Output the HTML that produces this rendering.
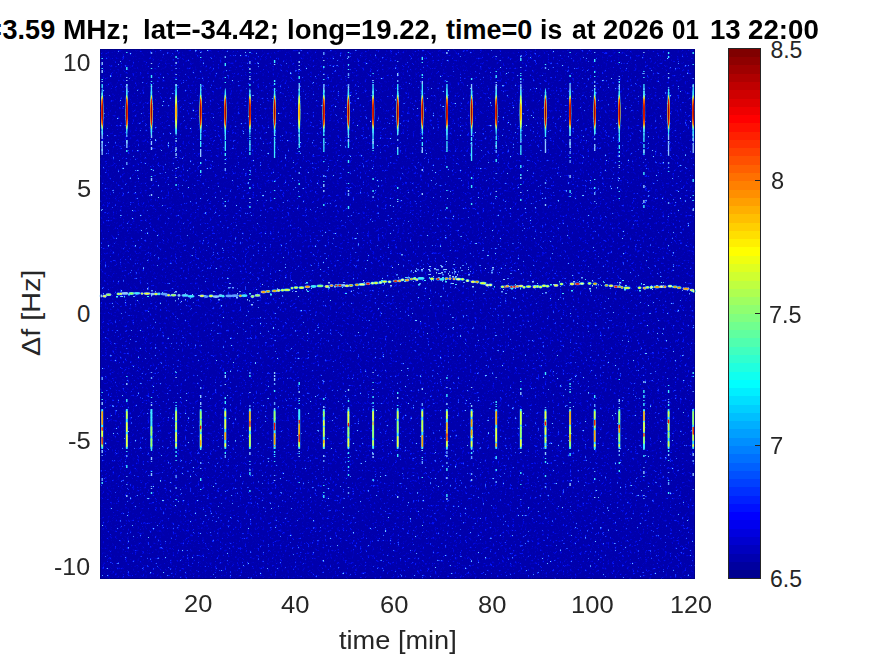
<!DOCTYPE html>
<html><head><meta charset="utf-8"><style>
html,body{margin:0;padding:0;background:#fff;width:875px;height:656px;overflow:hidden;}
body{position:relative;font-family:"Liberation Sans",sans-serif;}
.t{position:absolute;white-space:nowrap;line-height:1;}
svg{position:absolute;left:0;top:0;}
</style></head><body>
<svg width="875" height="656" viewBox="0 0 875 656" shape-rendering="crispEdges">
<filter id="nz" x="0" y="0" width="1" height="1" color-interpolation-filters="sRGB">
 <feTurbulence type="fractalNoise" baseFrequency="0.4" numOctaves="3" seed="4"/>
 <feComponentTransfer><feFuncR type="gamma" amplitude="1" exponent="10" offset="0"/></feComponentTransfer>
 <feColorMatrix type="matrix" values="2.1 0 0 0 0.012  2.1 0 0 0 0.012  2.1 0 0 0 0.012  0 0 0 0 1"/>
 <feComponentTransfer>
  <feFuncR type="table" tableValues="0 0 .02 .1 .2 .3 .38 .42 .45 .45 .45 .45 .45 .45 .45 .45 .45"/>
  <feFuncG type="table" tableValues="0 .02 .1 .25 .42 .58 .7 .78 .82 .82 .82 .82 .82 .82 .82 .82 .82"/>
  <feFuncB type="table" tableValues=".64 .84 1 1 1 1 1 1 1 1 1 1 1 1 1 1 1"/>
 </feComponentTransfer>
 <feGaussianBlur stdDeviation="0.5"/>
</filter>
<filter id="sb" x="-5%" y="-5%" width="110%" height="110%" color-interpolation-filters="sRGB"><feGaussianBlur stdDeviation="0.45"/></filter>
<rect x="100" y="49" width="595" height="530" fill="#0508b0"/>
<rect x="100" y="49" width="595" height="530" fill="#0508b0" filter="url(#nz)"/>
<g filter="url(#sb)" shape-rendering="auto"><path fill="#40e8ff" d="M101.5 58.0h1.4v1.0h-1.4zM101.5 68.0h1.4v1.0h-1.4zM101.5 79.0h1.4v1.0h-1.4zM101.5 85.0h1.4v2.0h-1.4zM101.5 102.0h1.4v1.0h-1.4zM101.5 109.0h1.4v1.0h-1.4zM101.5 116.0h1.4v2.0h-1.4zM101.5 141.0h1.4v2.0h-1.4zM101.5 149.0h1.4v2.0h-1.4zM126.1 52.0h1.4v1.0h-1.4zM126.1 67.0h1.4v3.0h-1.4zM126.1 84.0h1.4v2.0h-1.4zM126.1 108.0h1.4v2.0h-1.4zM126.1 111.0h1.4v2.0h-1.4zM126.1 120.0h1.4v1.0h-1.4zM126.1 122.0h1.4v1.0h-1.4zM126.1 140.0h1.4v3.0h-1.4zM126.1 150.0h1.4v2.0h-1.4zM150.8 68.0h1.4v1.0h-1.4zM150.8 75.0h1.4v3.0h-1.4zM150.8 81.0h1.4v1.0h-1.4zM150.8 91.0h1.4v2.0h-1.4zM150.8 97.0h1.4v2.0h-1.4zM150.8 103.0h1.4v1.0h-1.4zM150.8 106.0h1.4v3.0h-1.4zM150.8 114.0h1.4v1.0h-1.4zM150.8 169.0h1.4v1.0h-1.4zM150.8 176.0h1.4v1.0h-1.4zM175.4 56.0h1.4v2.0h-1.4zM175.4 79.0h1.4v1.0h-1.4zM175.4 99.0h1.4v1.0h-1.4zM175.4 103.0h1.4v3.0h-1.4zM175.4 120.0h1.4v1.0h-1.4zM175.4 123.0h1.4v2.0h-1.4zM175.4 128.0h1.4v2.0h-1.4zM175.4 138.0h1.4v1.0h-1.4zM175.4 149.0h1.4v1.0h-1.4zM175.4 184.0h1.4v2.0h-1.4zM200.0 57.0h1.4v1.0h-1.4zM200.0 98.0h1.4v3.0h-1.4zM200.0 104.0h1.4v1.0h-1.4zM200.0 134.0h1.4v3.0h-1.4zM200.0 143.0h1.4v1.0h-1.4zM200.0 162.0h1.4v2.0h-1.4zM200.0 170.0h1.4v3.0h-1.4zM224.6 63.0h1.4v3.0h-1.4zM224.6 77.0h1.4v1.0h-1.4zM224.6 82.0h1.4v1.0h-1.4zM224.6 113.0h1.4v2.0h-1.4zM224.6 119.0h1.4v1.0h-1.4zM224.6 130.0h1.4v2.0h-1.4zM224.6 147.0h1.4v2.0h-1.4zM224.6 153.0h1.4v3.0h-1.4zM224.6 159.0h1.4v1.0h-1.4zM224.6 201.0h1.4v1.0h-1.4zM249.2 52.0h1.4v1.0h-1.4zM249.2 72.0h1.4v1.0h-1.4zM249.2 84.0h1.4v2.0h-1.4zM249.2 104.0h1.4v2.0h-1.4zM249.2 109.0h1.4v1.0h-1.4zM249.2 114.0h1.4v3.0h-1.4zM249.2 131.0h1.4v1.0h-1.4zM249.2 136.0h1.4v1.0h-1.4zM249.2 138.0h1.4v1.0h-1.4zM249.2 142.0h1.4v1.0h-1.4zM249.2 149.0h1.4v2.0h-1.4zM249.2 152.0h1.4v3.0h-1.4zM249.2 170.0h1.4v1.0h-1.4zM249.2 174.0h1.4v1.0h-1.4zM249.2 179.0h1.4v1.0h-1.4zM249.2 187.0h1.4v2.0h-1.4zM249.2 206.0h1.4v2.0h-1.4zM273.9 60.0h1.4v3.0h-1.4zM273.9 80.0h1.4v2.0h-1.4zM273.9 83.0h1.4v2.0h-1.4zM273.9 88.0h1.4v2.0h-1.4zM273.9 107.0h1.4v1.0h-1.4zM273.9 110.0h1.4v2.0h-1.4zM273.9 114.0h1.4v2.0h-1.4zM273.9 117.0h1.4v2.0h-1.4zM273.9 120.0h1.4v2.0h-1.4zM273.9 123.0h1.4v2.0h-1.4zM273.9 143.0h1.4v2.0h-1.4zM273.9 146.0h1.4v1.0h-1.4zM273.9 181.0h1.4v1.0h-1.4zM273.9 190.0h1.4v1.0h-1.4zM273.9 198.0h1.4v1.0h-1.4zM298.5 76.0h1.4v3.0h-1.4zM298.5 83.0h1.4v1.0h-1.4zM298.5 89.0h1.4v2.0h-1.4zM298.5 113.0h1.4v3.0h-1.4zM298.5 138.0h1.4v2.0h-1.4zM298.5 151.0h1.4v1.0h-1.4zM298.5 183.0h1.4v2.0h-1.4zM298.5 196.0h1.4v1.0h-1.4zM323.1 66.0h1.4v2.0h-1.4zM323.1 79.0h1.4v1.0h-1.4zM323.1 90.0h1.4v3.0h-1.4zM323.1 96.0h1.4v1.0h-1.4zM323.1 116.0h1.4v3.0h-1.4zM323.1 127.0h1.4v1.0h-1.4zM323.1 130.0h1.4v2.0h-1.4zM323.1 134.0h1.4v2.0h-1.4zM323.1 140.0h1.4v3.0h-1.4zM323.1 151.0h1.4v1.0h-1.4zM323.1 161.0h1.4v1.0h-1.4zM323.1 181.0h1.4v1.0h-1.4zM323.1 204.0h1.4v2.0h-1.4zM347.8 52.0h1.4v1.0h-1.4zM347.8 64.0h1.4v1.0h-1.4zM347.8 69.0h1.4v1.0h-1.4zM347.8 87.0h1.4v1.0h-1.4zM347.8 103.0h1.4v2.0h-1.4zM347.8 115.0h1.4v2.0h-1.4zM347.8 127.0h1.4v3.0h-1.4zM347.8 134.0h1.4v1.0h-1.4zM347.8 137.0h1.4v1.0h-1.4zM347.8 144.0h1.4v2.0h-1.4zM347.8 160.0h1.4v3.0h-1.4zM347.8 172.0h1.4v1.0h-1.4zM347.8 183.0h1.4v1.0h-1.4zM347.8 206.0h1.4v3.0h-1.4zM372.4 73.0h1.4v1.0h-1.4zM372.4 82.0h1.4v1.0h-1.4zM372.4 95.0h1.4v1.0h-1.4zM372.4 99.0h1.4v2.0h-1.4zM372.4 103.0h1.4v2.0h-1.4zM372.4 127.0h1.4v1.0h-1.4zM372.4 150.0h1.4v1.0h-1.4zM372.4 178.0h1.4v2.0h-1.4zM372.4 190.0h1.4v2.0h-1.4zM397.0 88.0h1.4v1.0h-1.4zM397.0 114.0h1.4v1.0h-1.4zM397.0 125.0h1.4v1.0h-1.4zM397.0 130.0h1.4v1.0h-1.4zM397.0 187.0h1.4v2.0h-1.4zM397.0 199.0h1.4v1.0h-1.4zM421.6 57.0h1.4v3.0h-1.4zM421.6 62.0h1.4v1.0h-1.4zM421.6 74.0h1.4v2.0h-1.4zM421.6 77.0h1.4v1.0h-1.4zM421.6 106.0h1.4v2.0h-1.4zM421.6 123.0h1.4v2.0h-1.4zM421.6 137.0h1.4v2.0h-1.4zM421.6 150.0h1.4v3.0h-1.4zM446.2 81.0h1.4v1.0h-1.4zM446.2 88.0h1.4v2.0h-1.4zM446.2 93.0h1.4v2.0h-1.4zM446.2 97.0h1.4v2.0h-1.4zM446.2 151.0h1.4v1.0h-1.4zM446.2 166.0h1.4v2.0h-1.4zM446.2 190.0h1.4v1.0h-1.4zM446.2 207.0h1.4v2.0h-1.4zM470.9 78.0h1.4v2.0h-1.4zM470.9 91.0h1.4v2.0h-1.4zM470.9 97.0h1.4v2.0h-1.4zM470.9 113.0h1.4v1.0h-1.4zM470.9 117.0h1.4v3.0h-1.4zM470.9 123.0h1.4v1.0h-1.4zM470.9 177.0h1.4v2.0h-1.4zM470.9 185.0h1.4v3.0h-1.4zM470.9 203.0h1.4v2.0h-1.4zM495.5 71.0h1.4v1.0h-1.4zM495.5 75.0h1.4v3.0h-1.4zM495.5 86.0h1.4v3.0h-1.4zM495.5 100.0h1.4v1.0h-1.4zM495.5 159.0h1.4v3.0h-1.4zM495.5 196.0h1.4v1.0h-1.4zM520.1 58.0h1.4v3.0h-1.4zM520.1 73.0h1.4v1.0h-1.4zM520.1 75.0h1.4v1.0h-1.4zM520.1 78.0h1.4v2.0h-1.4zM520.1 87.0h1.4v1.0h-1.4zM520.1 103.0h1.4v1.0h-1.4zM520.1 108.0h1.4v1.0h-1.4zM520.1 112.0h1.4v2.0h-1.4zM520.1 123.0h1.4v1.0h-1.4zM520.1 130.0h1.4v1.0h-1.4zM520.1 151.0h1.4v1.0h-1.4zM520.1 165.0h1.4v3.0h-1.4zM520.1 174.0h1.4v2.0h-1.4zM520.1 184.0h1.4v1.0h-1.4zM520.1 199.0h1.4v2.0h-1.4zM544.8 64.0h1.4v1.0h-1.4zM544.8 96.0h1.4v2.0h-1.4zM544.8 112.0h1.4v3.0h-1.4zM544.8 118.0h1.4v2.0h-1.4zM544.8 124.0h1.4v2.0h-1.4zM544.8 132.0h1.4v1.0h-1.4zM544.8 136.0h1.4v1.0h-1.4zM569.4 52.0h1.4v1.0h-1.4zM569.4 75.0h1.4v2.0h-1.4zM569.4 83.0h1.4v1.0h-1.4zM569.4 111.0h1.4v3.0h-1.4zM569.4 120.0h1.4v3.0h-1.4zM569.4 125.0h1.4v3.0h-1.4zM569.4 134.0h1.4v2.0h-1.4zM569.4 142.0h1.4v3.0h-1.4zM569.4 157.0h1.4v1.0h-1.4zM569.4 190.0h1.4v3.0h-1.4zM569.4 196.0h1.4v1.0h-1.4zM594.0 59.0h1.4v3.0h-1.4zM594.0 71.0h1.4v2.0h-1.4zM594.0 76.0h1.4v1.0h-1.4zM594.0 95.0h1.4v1.0h-1.4zM594.0 99.0h1.4v3.0h-1.4zM594.0 108.0h1.4v3.0h-1.4zM594.0 123.0h1.4v2.0h-1.4zM594.0 179.0h1.4v1.0h-1.4zM594.0 187.0h1.4v2.0h-1.4zM618.6 52.0h1.4v1.0h-1.4zM618.6 62.0h1.4v1.0h-1.4zM618.6 81.0h1.4v2.0h-1.4zM618.6 86.0h1.4v1.0h-1.4zM618.6 88.0h1.4v1.0h-1.4zM618.6 113.0h1.4v1.0h-1.4zM618.6 120.0h1.4v1.0h-1.4zM618.6 127.0h1.4v1.0h-1.4zM618.6 134.0h1.4v2.0h-1.4zM618.6 145.0h1.4v2.0h-1.4zM618.6 151.0h1.4v2.0h-1.4zM618.6 161.0h1.4v1.0h-1.4zM618.6 191.0h1.4v1.0h-1.4zM618.6 198.0h1.4v1.0h-1.4zM643.2 71.0h1.4v1.0h-1.4zM643.2 77.0h1.4v1.0h-1.4zM643.2 91.0h1.4v1.0h-1.4zM643.2 95.0h1.4v2.0h-1.4zM643.2 104.0h1.4v2.0h-1.4zM643.2 108.0h1.4v2.0h-1.4zM643.2 138.0h1.4v3.0h-1.4zM643.2 172.0h1.4v3.0h-1.4zM643.2 205.0h1.4v3.0h-1.4zM667.9 52.0h1.4v2.0h-1.4zM667.9 56.0h1.4v2.0h-1.4zM667.9 89.0h1.4v2.0h-1.4zM667.9 92.0h1.4v2.0h-1.4zM667.9 106.0h1.4v1.0h-1.4zM667.9 121.0h1.4v2.0h-1.4zM667.9 141.0h1.4v1.0h-1.4zM667.9 171.0h1.4v1.0h-1.4zM692.5 52.0h1.4v2.0h-1.4zM692.5 64.0h1.4v1.0h-1.4zM692.5 91.0h1.4v3.0h-1.4zM692.5 97.0h1.4v3.0h-1.4zM692.5 108.0h1.4v2.0h-1.4zM692.5 112.0h1.4v1.0h-1.4zM692.5 127.0h1.4v3.0h-1.4zM692.5 179.0h1.4v3.0h-1.4zM692.5 195.0h1.4v1.0h-1.4zM692.5 200.0h1.4v1.0h-1.4zM101.5 84.0h1.3v4.0h-1.3zM101.5 97.0h1.3v6.0h-1.3zM101.5 120.0h1.3v8.0h-1.3zM126.2 101.0h1.3v10.0h-1.3zM126.2 113.0h1.3v4.0h-1.3zM126.2 118.0h1.3v6.0h-1.3zM150.8 84.0h1.3v10.0h-1.3zM150.8 95.0h1.3v10.0h-1.3zM150.8 113.0h1.3v14.0h-1.3zM175.4 84.0h1.3v14.0h-1.3zM175.4 100.0h1.3v10.0h-1.3zM175.4 112.0h1.3v8.0h-1.3zM175.4 123.0h1.3v10.0h-1.3zM200.0 84.0h1.3v6.0h-1.3zM200.0 136.0h1.3v4.0h-1.3zM200.0 141.0h1.3v6.0h-1.3zM224.7 117.0h1.3v14.0h-1.3zM224.7 132.0h1.3v8.0h-1.3zM224.7 141.0h1.3v10.0h-1.3zM249.3 112.0h1.3v8.0h-1.3zM249.3 123.0h1.3v4.0h-1.3zM249.3 140.0h1.3v10.0h-1.3zM273.9 94.0h1.3v8.0h-1.3zM273.9 105.0h1.3v8.0h-1.3zM273.9 114.0h1.3v4.0h-1.3zM273.9 137.0h1.3v6.0h-1.3zM273.9 144.0h1.3v14.0h-1.3zM298.6 121.0h1.3v6.0h-1.3zM298.6 128.0h1.3v4.0h-1.3zM298.6 134.0h1.3v14.0h-1.3zM323.2 95.0h1.3v8.0h-1.3zM323.2 104.0h1.3v6.0h-1.3zM323.2 138.0h1.3v14.0h-1.3zM347.8 100.0h1.3v4.0h-1.3zM347.8 140.0h1.3v8.0h-1.3zM372.4 84.0h1.3v10.0h-1.3zM372.4 95.0h1.3v6.0h-1.3zM372.4 102.0h1.3v14.0h-1.3zM372.4 119.0h1.3v14.0h-1.3zM372.4 135.0h1.3v14.0h-1.3zM397.1 84.0h1.3v6.0h-1.3zM397.1 93.0h1.3v6.0h-1.3zM397.1 110.0h1.3v10.0h-1.3zM397.1 149.0h1.3v6.0h-1.3zM421.7 84.0h1.3v10.0h-1.3zM421.7 142.0h1.3v4.0h-1.3zM446.3 84.0h1.3v10.0h-1.3zM446.3 95.0h1.3v8.0h-1.3zM446.3 121.0h1.3v4.0h-1.3zM446.3 126.0h1.3v14.0h-1.3zM446.3 141.0h1.3v10.0h-1.3zM470.9 137.0h1.3v4.0h-1.3zM470.9 142.0h1.3v4.0h-1.3zM470.9 147.0h1.3v14.0h-1.3zM495.6 136.0h1.3v4.0h-1.3zM495.6 141.0h1.3v8.0h-1.3zM520.2 134.0h1.3v8.0h-1.3zM520.2 145.0h1.3v10.0h-1.3zM544.8 101.0h1.3v14.0h-1.3zM544.8 127.0h1.3v10.0h-1.3zM569.4 110.0h1.3v10.0h-1.3zM594.1 102.0h1.3v8.0h-1.3zM594.1 120.0h1.3v14.0h-1.3zM618.7 91.0h1.3v8.0h-1.3zM618.7 100.0h1.3v10.0h-1.3zM618.7 134.0h1.3v8.0h-1.3zM618.7 145.0h1.3v4.0h-1.3zM643.3 84.0h1.3v6.0h-1.3zM643.3 119.0h1.3v4.0h-1.3zM643.3 134.0h1.3v8.0h-1.3zM643.3 144.0h1.3v4.0h-1.3zM643.3 149.0h1.3v6.0h-1.3zM667.9 95.0h1.3v10.0h-1.3zM692.6 84.0h1.3v8.0h-1.3zM692.6 94.0h1.3v4.0h-1.3zM692.6 100.0h1.3v10.0h-1.3zM692.6 119.0h1.3v10.0h-1.3zM692.6 131.0h1.3v10.0h-1.3zM101.5 392.0h1.4v1.0h-1.4zM101.5 399.0h1.4v1.0h-1.4zM101.5 425.0h1.4v2.0h-1.4zM101.5 441.0h1.4v2.0h-1.4zM101.5 444.0h1.4v2.0h-1.4zM101.5 482.0h1.4v2.0h-1.4zM126.1 376.0h1.4v1.0h-1.4zM126.1 399.0h1.4v3.0h-1.4zM126.1 414.0h1.4v2.0h-1.4zM126.1 418.0h1.4v1.0h-1.4zM126.1 436.0h1.4v1.0h-1.4zM126.1 451.0h1.4v1.0h-1.4zM126.1 465.0h1.4v3.0h-1.4zM150.8 397.0h1.4v1.0h-1.4zM150.8 409.0h1.4v1.0h-1.4zM150.8 413.0h1.4v1.0h-1.4zM150.8 417.0h1.4v1.0h-1.4zM150.8 427.0h1.4v3.0h-1.4zM150.8 432.0h1.4v1.0h-1.4zM150.8 448.0h1.4v3.0h-1.4zM150.8 471.0h1.4v1.0h-1.4zM150.8 492.0h1.4v2.0h-1.4zM175.4 372.0h1.4v1.0h-1.4zM175.4 402.0h1.4v1.0h-1.4zM175.4 405.0h1.4v1.0h-1.4zM175.4 407.0h1.4v2.0h-1.4zM175.4 429.0h1.4v3.0h-1.4zM175.4 446.0h1.4v2.0h-1.4zM175.4 451.0h1.4v2.0h-1.4zM175.4 455.0h1.4v2.0h-1.4zM175.4 460.0h1.4v1.0h-1.4zM175.4 499.0h1.4v1.0h-1.4zM200.0 433.0h1.4v2.0h-1.4zM200.0 446.0h1.4v2.0h-1.4zM200.0 449.0h1.4v1.0h-1.4zM200.0 478.0h1.4v3.0h-1.4zM200.0 489.0h1.4v1.0h-1.4zM224.6 372.0h1.4v2.0h-1.4zM224.6 397.0h1.4v2.0h-1.4zM224.6 401.0h1.4v3.0h-1.4zM224.6 413.0h1.4v2.0h-1.4zM224.6 418.0h1.4v1.0h-1.4zM224.6 428.0h1.4v1.0h-1.4zM224.6 441.0h1.4v2.0h-1.4zM224.6 452.0h1.4v2.0h-1.4zM249.2 375.0h1.4v2.0h-1.4zM249.2 421.0h1.4v1.0h-1.4zM249.2 425.0h1.4v1.0h-1.4zM249.2 427.0h1.4v2.0h-1.4zM249.2 431.0h1.4v2.0h-1.4zM249.2 437.0h1.4v3.0h-1.4zM249.2 441.0h1.4v3.0h-1.4zM249.2 461.0h1.4v1.0h-1.4zM249.2 472.0h1.4v3.0h-1.4zM249.2 490.0h1.4v2.0h-1.4zM273.9 390.0h1.4v2.0h-1.4zM273.9 422.0h1.4v2.0h-1.4zM273.9 430.0h1.4v3.0h-1.4zM273.9 435.0h1.4v2.0h-1.4zM273.9 447.0h1.4v2.0h-1.4zM273.9 451.0h1.4v2.0h-1.4zM273.9 454.0h1.4v1.0h-1.4zM273.9 456.0h1.4v1.0h-1.4zM273.9 461.0h1.4v1.0h-1.4zM298.5 382.0h1.4v3.0h-1.4zM298.5 400.0h1.4v1.0h-1.4zM298.5 403.0h1.4v1.0h-1.4zM298.5 416.0h1.4v1.0h-1.4zM298.5 421.0h1.4v1.0h-1.4zM298.5 431.0h1.4v3.0h-1.4zM298.5 442.0h1.4v1.0h-1.4zM298.5 444.0h1.4v3.0h-1.4zM298.5 453.0h1.4v1.0h-1.4zM298.5 482.0h1.4v1.0h-1.4zM323.1 398.0h1.4v2.0h-1.4zM323.1 423.0h1.4v1.0h-1.4zM323.1 430.0h1.4v1.0h-1.4zM323.1 438.0h1.4v3.0h-1.4zM323.1 443.0h1.4v1.0h-1.4zM323.1 485.0h1.4v1.0h-1.4zM323.1 492.0h1.4v1.0h-1.4zM323.1 495.0h1.4v3.0h-1.4zM347.8 400.0h1.4v2.0h-1.4zM347.8 412.0h1.4v1.0h-1.4zM347.8 414.0h1.4v2.0h-1.4zM347.8 422.0h1.4v3.0h-1.4zM347.8 441.0h1.4v2.0h-1.4zM347.8 445.0h1.4v1.0h-1.4zM347.8 452.0h1.4v2.0h-1.4zM347.8 457.0h1.4v1.0h-1.4zM347.8 461.0h1.4v1.0h-1.4zM347.8 466.0h1.4v2.0h-1.4zM347.8 474.0h1.4v2.0h-1.4zM372.4 382.0h1.4v1.0h-1.4zM372.4 396.0h1.4v2.0h-1.4zM372.4 402.0h1.4v2.0h-1.4zM372.4 410.0h1.4v1.0h-1.4zM372.4 415.0h1.4v2.0h-1.4zM372.4 423.0h1.4v1.0h-1.4zM372.4 440.0h1.4v1.0h-1.4zM372.4 479.0h1.4v2.0h-1.4zM397.0 392.0h1.4v2.0h-1.4zM397.0 405.0h1.4v1.0h-1.4zM397.0 408.0h1.4v1.0h-1.4zM397.0 427.0h1.4v2.0h-1.4zM397.0 436.0h1.4v2.0h-1.4zM397.0 441.0h1.4v3.0h-1.4zM397.0 454.0h1.4v3.0h-1.4zM421.6 410.0h1.4v2.0h-1.4zM421.6 413.0h1.4v1.0h-1.4zM421.6 430.0h1.4v1.0h-1.4zM421.6 437.0h1.4v1.0h-1.4zM421.6 457.0h1.4v1.0h-1.4zM421.6 477.0h1.4v1.0h-1.4zM446.2 377.0h1.4v2.0h-1.4zM446.2 394.0h1.4v3.0h-1.4zM446.2 411.0h1.4v1.0h-1.4zM446.2 417.0h1.4v1.0h-1.4zM446.2 420.0h1.4v3.0h-1.4zM446.2 468.0h1.4v3.0h-1.4zM446.2 494.0h1.4v3.0h-1.4zM470.9 414.0h1.4v1.0h-1.4zM470.9 430.0h1.4v2.0h-1.4zM470.9 434.0h1.4v1.0h-1.4zM470.9 452.0h1.4v2.0h-1.4zM495.5 401.0h1.4v2.0h-1.4zM495.5 404.0h1.4v1.0h-1.4zM495.5 406.0h1.4v1.0h-1.4zM495.5 411.0h1.4v1.0h-1.4zM495.5 416.0h1.4v2.0h-1.4zM495.5 427.0h1.4v2.0h-1.4zM495.5 444.0h1.4v1.0h-1.4zM495.5 456.0h1.4v3.0h-1.4zM495.5 469.0h1.4v2.0h-1.4zM520.1 381.0h1.4v1.0h-1.4zM520.1 388.0h1.4v2.0h-1.4zM520.1 409.0h1.4v1.0h-1.4zM520.1 427.0h1.4v2.0h-1.4zM520.1 472.0h1.4v2.0h-1.4zM520.1 484.0h1.4v1.0h-1.4zM544.8 372.0h1.4v3.0h-1.4zM544.8 417.0h1.4v2.0h-1.4zM544.8 429.0h1.4v3.0h-1.4zM544.8 435.0h1.4v3.0h-1.4zM544.8 442.0h1.4v3.0h-1.4zM544.8 447.0h1.4v2.0h-1.4zM544.8 458.0h1.4v1.0h-1.4zM544.8 461.0h1.4v2.0h-1.4zM544.8 475.0h1.4v2.0h-1.4zM569.4 383.0h1.4v2.0h-1.4zM569.4 386.0h1.4v1.0h-1.4zM569.4 391.0h1.4v2.0h-1.4zM569.4 402.0h1.4v1.0h-1.4zM569.4 416.0h1.4v1.0h-1.4zM569.4 441.0h1.4v1.0h-1.4zM569.4 448.0h1.4v1.0h-1.4zM569.4 453.0h1.4v3.0h-1.4zM594.0 395.0h1.4v3.0h-1.4zM594.0 428.0h1.4v1.0h-1.4zM594.0 443.0h1.4v3.0h-1.4zM594.0 447.0h1.4v3.0h-1.4zM594.0 478.0h1.4v2.0h-1.4zM618.6 379.0h1.4v1.0h-1.4zM618.6 412.0h1.4v1.0h-1.4zM618.6 425.0h1.4v2.0h-1.4zM618.6 429.0h1.4v1.0h-1.4zM618.6 443.0h1.4v1.0h-1.4zM618.6 462.0h1.4v2.0h-1.4zM618.6 470.0h1.4v2.0h-1.4zM643.2 390.0h1.4v3.0h-1.4zM643.2 395.0h1.4v3.0h-1.4zM643.2 400.0h1.4v1.0h-1.4zM643.2 403.0h1.4v3.0h-1.4zM643.2 411.0h1.4v2.0h-1.4zM643.2 427.0h1.4v1.0h-1.4zM643.2 440.0h1.4v2.0h-1.4zM643.2 446.0h1.4v1.0h-1.4zM643.2 448.0h1.4v2.0h-1.4zM643.2 455.0h1.4v2.0h-1.4zM643.2 476.0h1.4v1.0h-1.4zM667.9 385.0h1.4v1.0h-1.4zM667.9 390.0h1.4v3.0h-1.4zM667.9 404.0h1.4v2.0h-1.4zM667.9 416.0h1.4v2.0h-1.4zM667.9 450.0h1.4v2.0h-1.4zM667.9 460.0h1.4v1.0h-1.4zM667.9 480.0h1.4v1.0h-1.4zM667.9 492.0h1.4v2.0h-1.4zM692.5 372.0h1.4v2.0h-1.4zM692.5 376.0h1.4v1.0h-1.4zM692.5 409.0h1.4v1.0h-1.4zM692.5 420.0h1.4v2.0h-1.4zM692.5 426.0h1.4v1.0h-1.4zM550.0 284.0h2.0v1.5h-2.0zM624.0 289.0h2.0v1.5h-2.0zM404.0 281.0h2.0v1.0h-2.0zM249.0 293.0h2.0v1.5h-2.0zM641.0 283.0h1.0v1.5h-1.0zM515.0 288.0h1.0v1.0h-1.0zM494.0 286.0h1.0v1.5h-1.0zM307.0 291.0h2.0v1.0h-2.0zM424.0 280.0h2.0v1.0h-2.0zM162.0 292.0h1.0v1.5h-1.0zM328.0 287.0h2.0v1.5h-2.0zM147.0 296.0h2.0v1.0h-2.0zM661.0 282.0h1.0v1.0h-1.0zM345.0 286.0h2.0v1.0h-2.0zM691.0 290.0h1.0v1.5h-1.0zM204.0 295.0h2.0v1.0h-2.0zM650.0 288.0h2.0v1.0h-2.0zM128.0 294.0h2.0v1.5h-2.0zM534.0 285.0h2.0v1.0h-2.0zM442.0 277.0h2.0v1.5h-2.0zM350.0 286.0h2.0v1.0h-2.0zM352.0 285.0h1.0v1.0h-1.0zM579.0 281.0h1.0v1.0h-1.0zM418.0 284.0h2.0v1.5h-2.0zM559.0 281.0h1.0v1.5h-1.0zM589.0 283.0h1.0v1.5h-1.0zM585.0 279.0h1.0v1.0h-1.0zM300.0 287.0h2.0v1.0h-2.0zM455.0 284.0h2.0v1.0h-2.0zM603.0 281.0h1.0v1.5h-1.0zM562.0 293.0h2.0v1.0h-2.0zM405.0 277.0h2.0v1.0h-2.0zM116.0 296.0h2.0v1.5h-2.0zM672.0 286.0h1.0v1.5h-1.0zM414.0 277.0h2.0v1.0h-2.0zM306.0 282.0h2.0v1.5h-2.0zM520.0 288.0h1.0v1.5h-1.0zM511.0 288.0h2.0v1.5h-2.0zM429.0 277.0h1.0v1.5h-1.0zM124.0 296.0h1.0v1.5h-1.0zM622.0 280.0h2.0v1.0h-2.0zM455.0 277.0h1.0v1.5h-1.0zM639.0 290.0h2.0v1.5h-2.0zM345.0 293.0h2.0v1.0h-2.0zM270.0 294.0h2.0v1.5h-2.0zM445.0 281.0h2.0v1.5h-2.0zM571.0 290.0h2.0v1.5h-2.0zM381.0 280.0h2.0v1.5h-2.0zM342.0 287.0h1.0v1.0h-1.0zM515.0 284.0h1.0v1.0h-1.0zM144.0 293.0h1.0v1.0h-1.0z"/><path fill="#90c8ff" d="M101.5 62.0h1.4v3.0h-1.4zM101.5 70.0h1.4v3.0h-1.4zM101.5 81.0h1.4v1.0h-1.4zM101.5 93.0h1.4v2.0h-1.4zM101.5 96.0h1.4v3.0h-1.4zM101.5 124.0h1.4v2.0h-1.4zM126.1 77.0h1.4v1.0h-1.4zM126.1 80.0h1.4v1.0h-1.4zM126.1 126.0h1.4v3.0h-1.4zM150.8 63.0h1.4v1.0h-1.4zM150.8 86.0h1.4v1.0h-1.4zM150.8 112.0h1.4v1.0h-1.4zM150.8 121.0h1.4v1.0h-1.4zM150.8 135.0h1.4v3.0h-1.4zM150.8 147.0h1.4v3.0h-1.4zM150.8 178.0h1.4v3.0h-1.4zM150.8 194.0h1.4v2.0h-1.4zM175.4 62.0h1.4v2.0h-1.4zM175.4 74.0h1.4v1.0h-1.4zM175.4 84.0h1.4v2.0h-1.4zM175.4 118.0h1.4v1.0h-1.4zM175.4 133.0h1.4v1.0h-1.4zM175.4 140.0h1.4v2.0h-1.4zM175.4 153.0h1.4v3.0h-1.4zM175.4 157.0h1.4v1.0h-1.4zM175.4 168.0h1.4v1.0h-1.4zM175.4 177.0h1.4v1.0h-1.4zM200.0 95.0h1.4v1.0h-1.4zM200.0 109.0h1.4v1.0h-1.4zM200.0 123.0h1.4v1.0h-1.4zM200.0 125.0h1.4v3.0h-1.4zM224.6 98.0h1.4v1.0h-1.4zM224.6 124.0h1.4v2.0h-1.4zM249.2 68.0h1.4v2.0h-1.4zM249.2 76.0h1.4v1.0h-1.4zM249.2 78.0h1.4v2.0h-1.4zM249.2 94.0h1.4v3.0h-1.4zM249.2 128.0h1.4v1.0h-1.4zM249.2 144.0h1.4v1.0h-1.4zM249.2 198.0h1.4v1.0h-1.4zM249.2 202.0h1.4v1.0h-1.4zM273.9 64.0h1.4v1.0h-1.4zM273.9 96.0h1.4v1.0h-1.4zM298.5 61.0h1.4v2.0h-1.4zM298.5 65.0h1.4v1.0h-1.4zM298.5 69.0h1.4v1.0h-1.4zM298.5 122.0h1.4v1.0h-1.4zM298.5 126.0h1.4v3.0h-1.4zM298.5 134.0h1.4v3.0h-1.4zM298.5 144.0h1.4v1.0h-1.4zM323.1 60.0h1.4v1.0h-1.4zM323.1 74.0h1.4v1.0h-1.4zM323.1 88.0h1.4v1.0h-1.4zM323.1 184.0h1.4v3.0h-1.4zM323.1 190.0h1.4v2.0h-1.4zM347.8 93.0h1.4v1.0h-1.4zM347.8 98.0h1.4v3.0h-1.4zM347.8 107.0h1.4v1.0h-1.4zM347.8 110.0h1.4v2.0h-1.4zM347.8 139.0h1.4v3.0h-1.4zM347.8 190.0h1.4v2.0h-1.4zM372.4 80.0h1.4v1.0h-1.4zM372.4 91.0h1.4v2.0h-1.4zM372.4 139.0h1.4v1.0h-1.4zM372.4 141.0h1.4v3.0h-1.4zM397.0 73.0h1.4v3.0h-1.4zM397.0 100.0h1.4v1.0h-1.4zM397.0 104.0h1.4v3.0h-1.4zM397.0 117.0h1.4v2.0h-1.4zM397.0 122.0h1.4v2.0h-1.4zM397.0 147.0h1.4v2.0h-1.4zM397.0 201.0h1.4v1.0h-1.4zM421.6 81.0h1.4v3.0h-1.4zM421.6 100.0h1.4v2.0h-1.4zM421.6 103.0h1.4v1.0h-1.4zM421.6 112.0h1.4v2.0h-1.4zM421.6 118.0h1.4v2.0h-1.4zM421.6 169.0h1.4v2.0h-1.4zM421.6 193.0h1.4v2.0h-1.4zM446.2 52.0h1.4v2.0h-1.4zM446.2 104.0h1.4v3.0h-1.4zM446.2 108.0h1.4v1.0h-1.4zM446.2 116.0h1.4v2.0h-1.4zM470.9 94.0h1.4v2.0h-1.4zM470.9 103.0h1.4v2.0h-1.4zM495.5 82.0h1.4v1.0h-1.4zM495.5 116.0h1.4v2.0h-1.4zM495.5 120.0h1.4v1.0h-1.4zM495.5 145.0h1.4v2.0h-1.4zM495.5 191.0h1.4v1.0h-1.4zM520.1 56.0h1.4v1.0h-1.4zM520.1 90.0h1.4v2.0h-1.4zM520.1 93.0h1.4v2.0h-1.4zM520.1 115.0h1.4v2.0h-1.4zM520.1 118.0h1.4v1.0h-1.4zM520.1 177.0h1.4v2.0h-1.4zM520.1 192.0h1.4v1.0h-1.4zM544.8 92.0h1.4v1.0h-1.4zM544.8 106.0h1.4v2.0h-1.4zM544.8 142.0h1.4v1.0h-1.4zM544.8 149.0h1.4v3.0h-1.4zM544.8 204.0h1.4v2.0h-1.4zM569.4 92.0h1.4v1.0h-1.4zM569.4 96.0h1.4v2.0h-1.4zM569.4 107.0h1.4v3.0h-1.4zM569.4 139.0h1.4v1.0h-1.4zM569.4 146.0h1.4v2.0h-1.4zM569.4 175.0h1.4v3.0h-1.4zM594.0 85.0h1.4v2.0h-1.4zM594.0 88.0h1.4v2.0h-1.4zM594.0 121.0h1.4v1.0h-1.4zM594.0 131.0h1.4v3.0h-1.4zM594.0 150.0h1.4v1.0h-1.4zM618.6 79.0h1.4v1.0h-1.4zM618.6 95.0h1.4v1.0h-1.4zM618.6 98.0h1.4v1.0h-1.4zM618.6 125.0h1.4v1.0h-1.4zM618.6 155.0h1.4v2.0h-1.4zM618.6 165.0h1.4v1.0h-1.4zM618.6 167.0h1.4v1.0h-1.4zM618.6 178.0h1.4v1.0h-1.4zM643.2 52.0h1.4v1.0h-1.4zM643.2 73.0h1.4v1.0h-1.4zM643.2 112.0h1.4v2.0h-1.4zM643.2 115.0h1.4v2.0h-1.4zM643.2 121.0h1.4v1.0h-1.4zM643.2 126.0h1.4v1.0h-1.4zM643.2 150.0h1.4v3.0h-1.4zM643.2 185.0h1.4v3.0h-1.4zM643.2 200.0h1.4v3.0h-1.4zM667.9 73.0h1.4v1.0h-1.4zM667.9 77.0h1.4v1.0h-1.4zM692.5 85.0h1.4v2.0h-1.4zM692.5 103.0h1.4v2.0h-1.4zM692.5 134.0h1.4v2.0h-1.4zM692.5 138.0h1.4v3.0h-1.4zM692.5 149.0h1.4v1.0h-1.4zM692.5 209.0h1.4v2.0h-1.4zM101.5 111.0h1.3v6.0h-1.3zM101.5 131.0h1.3v8.0h-1.3zM101.5 141.0h1.3v14.0h-1.3zM126.2 84.0h1.3v8.0h-1.3zM126.2 140.0h1.3v8.0h-1.3zM150.8 106.0h1.3v4.0h-1.3zM150.8 128.0h1.3v10.0h-1.3zM150.8 141.0h1.3v4.0h-1.3zM175.4 147.0h1.3v4.0h-1.3zM200.0 107.0h1.3v14.0h-1.3zM200.0 127.0h1.3v6.0h-1.3zM200.0 149.0h1.3v8.0h-1.3zM224.7 95.0h1.3v10.0h-1.3zM249.3 95.0h1.3v4.0h-1.3zM249.3 101.0h1.3v8.0h-1.3zM273.9 132.0h1.3v4.0h-1.3zM298.6 84.0h1.3v6.0h-1.3zM298.6 100.0h1.3v8.0h-1.3zM298.6 109.0h1.3v10.0h-1.3zM323.2 84.0h1.3v8.0h-1.3zM323.2 112.0h1.3v8.0h-1.3zM347.8 84.0h1.3v14.0h-1.3zM347.8 123.0h1.3v14.0h-1.3zM397.1 121.0h1.3v4.0h-1.3zM397.1 127.0h1.3v8.0h-1.3zM421.7 95.0h1.3v8.0h-1.3zM421.7 147.0h1.3v6.0h-1.3zM470.9 84.0h1.3v8.0h-1.3zM470.9 106.0h1.3v14.0h-1.3zM470.9 123.0h1.3v4.0h-1.3zM470.9 130.0h1.3v6.0h-1.3zM495.6 84.0h1.3v14.0h-1.3zM520.2 84.0h1.3v14.0h-1.3zM520.2 100.0h1.3v8.0h-1.3zM520.2 109.0h1.3v10.0h-1.3zM544.8 95.0h1.3v4.0h-1.3zM544.8 116.0h1.3v4.0h-1.3zM544.8 121.0h1.3v4.0h-1.3zM544.8 139.0h1.3v14.0h-1.3zM569.4 84.0h1.3v10.0h-1.3zM569.4 97.0h1.3v10.0h-1.3zM569.4 122.0h1.3v14.0h-1.3zM569.4 139.0h1.3v8.0h-1.3zM594.1 144.0h1.3v6.0h-1.3zM618.7 84.0h1.3v6.0h-1.3zM618.7 112.0h1.3v4.0h-1.3zM618.7 119.0h1.3v14.0h-1.3zM643.3 91.0h1.3v6.0h-1.3zM643.3 100.0h1.3v6.0h-1.3zM643.3 108.0h1.3v10.0h-1.3zM643.3 126.0h1.3v6.0h-1.3zM667.9 134.0h1.3v6.0h-1.3zM667.9 141.0h1.3v14.0h-1.3zM692.6 113.0h1.3v4.0h-1.3zM692.6 143.0h1.3v10.0h-1.3zM101.5 402.0h1.4v3.0h-1.4zM101.5 416.0h1.4v2.0h-1.4zM101.5 450.0h1.4v3.0h-1.4zM126.1 383.0h1.4v2.0h-1.4zM126.1 432.0h1.4v2.0h-1.4zM126.1 444.0h1.4v3.0h-1.4zM126.1 495.0h1.4v2.0h-1.4zM150.8 404.0h1.4v2.0h-1.4zM150.8 439.0h1.4v2.0h-1.4zM150.8 444.0h1.4v2.0h-1.4zM150.8 457.0h1.4v3.0h-1.4zM150.8 473.0h1.4v3.0h-1.4zM150.8 488.0h1.4v1.0h-1.4zM175.4 377.0h1.4v1.0h-1.4zM175.4 415.0h1.4v2.0h-1.4zM175.4 433.0h1.4v2.0h-1.4zM175.4 437.0h1.4v1.0h-1.4zM200.0 395.0h1.4v3.0h-1.4zM200.0 402.0h1.4v3.0h-1.4zM224.6 375.0h1.4v3.0h-1.4zM224.6 384.0h1.4v1.0h-1.4zM249.2 392.0h1.4v1.0h-1.4zM249.2 452.0h1.4v3.0h-1.4zM273.9 372.0h1.4v2.0h-1.4zM273.9 375.0h1.4v2.0h-1.4zM273.9 378.0h1.4v3.0h-1.4zM273.9 408.0h1.4v1.0h-1.4zM273.9 418.0h1.4v1.0h-1.4zM273.9 427.0h1.4v2.0h-1.4zM273.9 480.0h1.4v1.0h-1.4zM298.5 391.0h1.4v2.0h-1.4zM298.5 398.0h1.4v1.0h-1.4zM298.5 424.0h1.4v1.0h-1.4zM298.5 451.0h1.4v1.0h-1.4zM298.5 456.0h1.4v1.0h-1.4zM323.1 406.0h1.4v2.0h-1.4zM323.1 419.0h1.4v1.0h-1.4zM323.1 433.0h1.4v1.0h-1.4zM323.1 447.0h1.4v2.0h-1.4zM323.1 455.0h1.4v2.0h-1.4zM347.8 389.0h1.4v2.0h-1.4zM347.8 428.0h1.4v1.0h-1.4zM347.8 432.0h1.4v2.0h-1.4zM347.8 447.0h1.4v1.0h-1.4zM372.4 372.0h1.4v1.0h-1.4zM372.4 389.0h1.4v1.0h-1.4zM372.4 430.0h1.4v1.0h-1.4zM372.4 436.0h1.4v2.0h-1.4zM372.4 453.0h1.4v2.0h-1.4zM372.4 456.0h1.4v2.0h-1.4zM397.0 397.0h1.4v2.0h-1.4zM397.0 432.0h1.4v2.0h-1.4zM397.0 496.0h1.4v2.0h-1.4zM421.6 388.0h1.4v2.0h-1.4zM421.6 417.0h1.4v3.0h-1.4zM421.6 448.0h1.4v1.0h-1.4zM421.6 450.0h1.4v1.0h-1.4zM446.2 387.0h1.4v1.0h-1.4zM446.2 403.0h1.4v2.0h-1.4zM446.2 437.0h1.4v1.0h-1.4zM446.2 455.0h1.4v2.0h-1.4zM446.2 477.0h1.4v2.0h-1.4zM446.2 498.0h1.4v2.0h-1.4zM470.9 387.0h1.4v1.0h-1.4zM470.9 405.0h1.4v2.0h-1.4zM470.9 422.0h1.4v2.0h-1.4zM470.9 436.0h1.4v3.0h-1.4zM470.9 440.0h1.4v2.0h-1.4zM470.9 479.0h1.4v2.0h-1.4zM520.1 392.0h1.4v3.0h-1.4zM520.1 419.0h1.4v2.0h-1.4zM520.1 432.0h1.4v1.0h-1.4zM520.1 439.0h1.4v2.0h-1.4zM520.1 443.0h1.4v3.0h-1.4zM520.1 452.0h1.4v1.0h-1.4zM544.8 452.0h1.4v3.0h-1.4zM569.4 389.0h1.4v1.0h-1.4zM569.4 407.0h1.4v1.0h-1.4zM569.4 418.0h1.4v1.0h-1.4zM569.4 420.0h1.4v2.0h-1.4zM569.4 424.0h1.4v3.0h-1.4zM569.4 444.0h1.4v1.0h-1.4zM569.4 483.0h1.4v3.0h-1.4zM594.0 497.0h1.4v1.0h-1.4zM618.6 399.0h1.4v3.0h-1.4zM618.6 407.0h1.4v1.0h-1.4zM618.6 433.0h1.4v1.0h-1.4zM618.6 438.0h1.4v2.0h-1.4zM618.6 450.0h1.4v2.0h-1.4zM643.2 381.0h1.4v2.0h-1.4zM643.2 419.0h1.4v2.0h-1.4zM643.2 422.0h1.4v3.0h-1.4zM643.2 471.0h1.4v3.0h-1.4zM643.2 495.0h1.4v1.0h-1.4zM667.9 412.0h1.4v2.0h-1.4zM667.9 432.0h1.4v1.0h-1.4zM667.9 437.0h1.4v1.0h-1.4zM667.9 444.0h1.4v2.0h-1.4zM667.9 454.0h1.4v2.0h-1.4zM692.5 453.0h1.4v3.0h-1.4zM692.5 473.0h1.4v3.0h-1.4zM236.0 297.0h2.0v1.5h-2.0zM532.0 281.0h2.0v1.5h-2.0zM509.0 286.0h1.0v1.0h-1.0zM503.0 279.0h2.0v1.0h-2.0zM147.0 288.0h1.0v1.5h-1.0zM673.0 287.0h2.0v1.0h-2.0zM553.0 284.0h2.0v1.0h-2.0zM592.0 280.0h1.0v1.5h-1.0zM175.0 291.0h2.0v1.5h-2.0zM181.0 301.0h1.0v1.0h-1.0zM417.0 280.0h1.0v1.0h-1.0zM295.0 291.0h2.0v1.0h-2.0zM545.0 285.0h2.0v1.5h-2.0zM126.0 292.0h1.0v1.5h-1.0zM676.0 286.0h1.0v1.5h-1.0zM122.0 296.0h1.0v1.0h-1.0zM656.0 285.0h2.0v1.0h-2.0zM589.0 288.0h2.0v1.5h-2.0zM452.0 283.0h2.0v1.0h-2.0zM449.0 275.0h2.0v1.5h-2.0zM178.0 298.0h1.0v1.5h-1.0zM334.0 286.0h2.0v1.5h-2.0zM521.0 285.0h2.0v1.0h-2.0zM542.0 285.0h1.0v1.0h-1.0zM198.0 295.0h2.0v1.0h-2.0zM390.0 285.0h2.0v1.5h-2.0zM262.0 284.0h1.0v1.0h-1.0zM247.0 299.0h1.0v1.5h-1.0zM592.0 285.0h1.0v1.5h-1.0zM192.0 294.0h1.0v1.5h-1.0zM328.0 282.0h2.0v1.5h-2.0zM429.0 274.0h2.0v1.0h-2.0zM619.0 282.0h2.0v1.5h-2.0zM151.0 295.0h1.0v1.5h-1.0zM419.0 277.0h1.0v1.0h-1.0zM503.0 289.0h1.0v1.0h-1.0zM384.0 283.0h1.0v1.5h-1.0zM643.0 284.0h2.0v1.0h-2.0zM457.0 274.0h1.0v1.5h-1.0zM351.0 291.0h1.0v1.0h-1.0zM375.0 282.0h2.0v1.5h-2.0zM477.0 282.0h1.0v1.5h-1.0zM237.0 293.0h1.0v1.5h-1.0zM251.0 304.0h2.0v1.5h-2.0zM442.0 279.0h2.0v1.5h-2.0zM306.0 289.0h1.0v1.5h-1.0zM445.0 279.0h1.0v1.5h-1.0zM452.0 276.0h2.0v1.5h-2.0zM431.0 280.0h1.0v1.0h-1.0zM573.0 281.0h2.0v1.5h-2.0zM363.0 280.0h1.0v1.0h-1.0zM455.0 276.0h2.0v1.5h-2.0zM136.0 293.0h1.0v1.5h-1.0zM652.0 289.0h1.0v1.0h-1.0zM472.0 286.0h2.0v1.5h-2.0zM429.0 270.0h2.0v1.5h-2.0zM392.0 267.0h1.0v1.0h-1.0zM468.0 269.0h1.0v1.0h-1.0zM429.0 266.0h2.0v1.0h-2.0zM492.0 267.0h2.0v1.5h-2.0zM434.0 268.0h2.0v1.5h-2.0zM428.0 269.0h2.0v1.0h-2.0zM436.0 272.0h1.0v1.5h-1.0zM446.0 261.0h1.0v1.0h-1.0zM448.0 273.0h1.0v1.5h-1.0zM446.0 269.0h1.0v1.0h-1.0zM441.0 272.0h2.0v1.5h-2.0zM518.0 269.0h1.0v1.0h-1.0zM485.0 268.0h1.0v1.0h-1.0zM454.0 271.0h2.0v1.5h-2.0zM421.0 269.0h2.0v1.0h-2.0zM444.0 269.0h2.0v1.0h-2.0zM460.0 267.0h1.0v1.5h-1.0zM439.0 273.0h2.0v1.0h-2.0zM423.0 268.0h1.0v1.0h-1.0zM415.0 271.0h2.0v1.0h-2.0zM441.0 266.0h2.0v1.5h-2.0zM415.0 270.0h1.0v1.5h-1.0zM398.0 264.0h1.0v1.0h-1.0z"/><path fill="#60a0ff" d="M101.5 128.0h1.4v1.0h-1.4zM101.5 144.0h1.4v3.0h-1.4zM101.5 209.0h1.4v1.0h-1.4zM126.1 92.0h1.4v2.0h-1.4zM126.1 135.0h1.4v2.0h-1.4zM126.1 162.0h1.4v3.0h-1.4zM150.8 52.0h1.4v2.0h-1.4zM150.8 124.0h1.4v1.0h-1.4zM150.8 131.0h1.4v1.0h-1.4zM175.4 68.0h1.4v1.0h-1.4zM175.4 94.0h1.4v2.0h-1.4zM175.4 110.0h1.4v2.0h-1.4zM200.0 52.0h1.4v1.0h-1.4zM200.0 85.0h1.4v2.0h-1.4zM200.0 89.0h1.4v2.0h-1.4zM200.0 116.0h1.4v3.0h-1.4zM224.6 56.0h1.4v2.0h-1.4zM224.6 109.0h1.4v3.0h-1.4zM224.6 135.0h1.4v1.0h-1.4zM224.6 163.0h1.4v1.0h-1.4zM224.6 168.0h1.4v3.0h-1.4zM224.6 205.0h1.4v2.0h-1.4zM249.2 61.0h1.4v3.0h-1.4zM249.2 90.0h1.4v2.0h-1.4zM273.9 91.0h1.4v1.0h-1.4zM273.9 101.0h1.4v2.0h-1.4zM273.9 131.0h1.4v2.0h-1.4zM273.9 139.0h1.4v1.0h-1.4zM298.5 52.0h1.4v2.0h-1.4zM298.5 117.0h1.4v3.0h-1.4zM298.5 130.0h1.4v2.0h-1.4zM298.5 172.0h1.4v2.0h-1.4zM323.1 52.0h1.4v3.0h-1.4zM323.1 84.0h1.4v3.0h-1.4zM323.1 103.0h1.4v2.0h-1.4zM323.1 111.0h1.4v1.0h-1.4zM323.1 144.0h1.4v1.0h-1.4zM323.1 175.0h1.4v2.0h-1.4zM347.8 56.0h1.4v2.0h-1.4zM347.8 73.0h1.4v3.0h-1.4zM347.8 77.0h1.4v1.0h-1.4zM347.8 84.0h1.4v2.0h-1.4zM347.8 89.0h1.4v1.0h-1.4zM347.8 193.0h1.4v3.0h-1.4zM372.4 84.0h1.4v1.0h-1.4zM372.4 108.0h1.4v1.0h-1.4zM372.4 118.0h1.4v3.0h-1.4zM372.4 132.0h1.4v3.0h-1.4zM372.4 148.0h1.4v1.0h-1.4zM372.4 196.0h1.4v2.0h-1.4zM397.0 61.0h1.4v1.0h-1.4zM397.0 80.0h1.4v2.0h-1.4zM397.0 91.0h1.4v3.0h-1.4zM397.0 139.0h1.4v2.0h-1.4zM421.6 127.0h1.4v2.0h-1.4zM421.6 132.0h1.4v1.0h-1.4zM421.6 147.0h1.4v1.0h-1.4zM446.2 100.0h1.4v3.0h-1.4zM446.2 121.0h1.4v2.0h-1.4zM446.2 129.0h1.4v1.0h-1.4zM446.2 133.0h1.4v2.0h-1.4zM446.2 147.0h1.4v1.0h-1.4zM470.9 132.0h1.4v1.0h-1.4zM470.9 144.0h1.4v3.0h-1.4zM495.5 56.0h1.4v1.0h-1.4zM495.5 107.0h1.4v1.0h-1.4zM495.5 109.0h1.4v1.0h-1.4zM495.5 124.0h1.4v2.0h-1.4zM495.5 150.0h1.4v3.0h-1.4zM495.5 173.0h1.4v1.0h-1.4zM520.1 67.0h1.4v1.0h-1.4zM520.1 81.0h1.4v2.0h-1.4zM520.1 126.0h1.4v1.0h-1.4zM520.1 139.0h1.4v1.0h-1.4zM520.1 141.0h1.4v2.0h-1.4zM544.8 67.0h1.4v2.0h-1.4zM544.8 140.0h1.4v1.0h-1.4zM544.8 182.0h1.4v2.0h-1.4zM569.4 94.0h1.4v1.0h-1.4zM569.4 102.0h1.4v1.0h-1.4zM569.4 151.0h1.4v3.0h-1.4zM569.4 160.0h1.4v3.0h-1.4zM594.0 52.0h1.4v1.0h-1.4zM594.0 81.0h1.4v2.0h-1.4zM594.0 115.0h1.4v2.0h-1.4zM594.0 138.0h1.4v2.0h-1.4zM594.0 146.0h1.4v1.0h-1.4zM594.0 192.0h1.4v3.0h-1.4zM594.0 201.0h1.4v1.0h-1.4zM618.6 76.0h1.4v1.0h-1.4zM618.6 107.0h1.4v2.0h-1.4zM643.2 88.0h1.4v2.0h-1.4zM643.2 99.0h1.4v2.0h-1.4zM643.2 133.0h1.4v1.0h-1.4zM667.9 87.0h1.4v1.0h-1.4zM667.9 101.0h1.4v2.0h-1.4zM667.9 114.0h1.4v1.0h-1.4zM667.9 127.0h1.4v2.0h-1.4zM667.9 143.0h1.4v2.0h-1.4zM667.9 155.0h1.4v1.0h-1.4zM667.9 162.0h1.4v2.0h-1.4zM667.9 167.0h1.4v1.0h-1.4zM667.9 202.0h1.4v2.0h-1.4zM692.5 78.0h1.4v1.0h-1.4zM692.5 114.0h1.4v1.0h-1.4zM692.5 144.0h1.4v1.0h-1.4zM101.5 377.0h1.4v3.0h-1.4zM101.5 429.0h1.4v3.0h-1.4zM101.5 433.0h1.4v2.0h-1.4zM101.5 455.0h1.4v1.0h-1.4zM101.5 478.0h1.4v3.0h-1.4zM126.1 409.0h1.4v1.0h-1.4zM126.1 426.0h1.4v3.0h-1.4zM126.1 440.0h1.4v2.0h-1.4zM126.1 455.0h1.4v2.0h-1.4zM126.1 476.0h1.4v1.0h-1.4zM126.1 484.0h1.4v1.0h-1.4zM150.8 372.0h1.4v1.0h-1.4zM150.8 377.0h1.4v2.0h-1.4zM150.8 402.0h1.4v1.0h-1.4zM150.8 420.0h1.4v1.0h-1.4zM150.8 461.0h1.4v1.0h-1.4zM150.8 486.0h1.4v1.0h-1.4zM175.4 413.0h1.4v1.0h-1.4zM175.4 421.0h1.4v2.0h-1.4zM175.4 475.0h1.4v3.0h-1.4zM175.4 487.0h1.4v2.0h-1.4zM200.0 387.0h1.4v2.0h-1.4zM200.0 406.0h1.4v1.0h-1.4zM200.0 417.0h1.4v2.0h-1.4zM200.0 423.0h1.4v1.0h-1.4zM200.0 462.0h1.4v2.0h-1.4zM200.0 468.0h1.4v1.0h-1.4zM224.6 408.0h1.4v1.0h-1.4zM224.6 425.0h1.4v2.0h-1.4zM224.6 435.0h1.4v2.0h-1.4zM224.6 455.0h1.4v3.0h-1.4zM249.2 372.0h1.4v2.0h-1.4zM249.2 405.0h1.4v2.0h-1.4zM249.2 408.0h1.4v3.0h-1.4zM249.2 448.0h1.4v1.0h-1.4zM249.2 464.0h1.4v1.0h-1.4zM249.2 469.0h1.4v2.0h-1.4zM273.9 383.0h1.4v2.0h-1.4zM273.9 402.0h1.4v3.0h-1.4zM273.9 475.0h1.4v1.0h-1.4zM323.1 381.0h1.4v1.0h-1.4zM323.1 409.0h1.4v2.0h-1.4zM323.1 425.0h1.4v2.0h-1.4zM323.1 460.0h1.4v2.0h-1.4zM347.8 407.0h1.4v3.0h-1.4zM347.8 436.0h1.4v2.0h-1.4zM347.8 487.0h1.4v1.0h-1.4zM347.8 492.0h1.4v2.0h-1.4zM372.4 406.0h1.4v1.0h-1.4zM372.4 408.0h1.4v1.0h-1.4zM372.4 434.0h1.4v1.0h-1.4zM397.0 415.0h1.4v2.0h-1.4zM397.0 446.0h1.4v2.0h-1.4zM421.6 403.0h1.4v3.0h-1.4zM421.6 426.0h1.4v1.0h-1.4zM421.6 444.0h1.4v3.0h-1.4zM421.6 459.0h1.4v1.0h-1.4zM421.6 461.0h1.4v3.0h-1.4zM446.2 414.0h1.4v2.0h-1.4zM446.2 442.0h1.4v2.0h-1.4zM446.2 448.0h1.4v2.0h-1.4zM446.2 451.0h1.4v3.0h-1.4zM446.2 462.0h1.4v2.0h-1.4zM470.9 411.0h1.4v2.0h-1.4zM470.9 448.0h1.4v2.0h-1.4zM470.9 456.0h1.4v3.0h-1.4zM470.9 473.0h1.4v2.0h-1.4zM495.5 377.0h1.4v1.0h-1.4zM495.5 421.0h1.4v3.0h-1.4zM495.5 446.0h1.4v1.0h-1.4zM495.5 481.0h1.4v2.0h-1.4zM520.1 411.0h1.4v2.0h-1.4zM520.1 499.0h1.4v1.0h-1.4zM544.8 407.0h1.4v1.0h-1.4zM544.8 412.0h1.4v1.0h-1.4zM544.8 486.0h1.4v2.0h-1.4zM569.4 379.0h1.4v1.0h-1.4zM569.4 435.0h1.4v2.0h-1.4zM594.0 404.0h1.4v3.0h-1.4zM594.0 410.0h1.4v3.0h-1.4zM594.0 471.0h1.4v1.0h-1.4zM618.6 403.0h1.4v1.0h-1.4zM618.6 454.0h1.4v2.0h-1.4zM643.2 467.0h1.4v1.0h-1.4zM643.2 498.0h1.4v1.0h-1.4zM667.9 399.0h1.4v1.0h-1.4zM667.9 401.0h1.4v2.0h-1.4zM667.9 434.0h1.4v2.0h-1.4zM667.9 472.0h1.4v1.0h-1.4zM667.9 482.0h1.4v3.0h-1.4zM692.5 391.0h1.4v1.0h-1.4zM692.5 460.0h1.4v2.0h-1.4zM692.5 489.0h1.4v1.0h-1.4zM170.0 295.0h1.0v1.5h-1.0zM663.0 285.0h1.0v1.0h-1.0zM318.0 285.0h1.0v1.0h-1.0zM407.0 277.0h1.0v1.5h-1.0zM644.0 288.0h2.0v1.5h-2.0zM682.0 290.0h1.0v1.0h-1.0zM413.0 281.0h1.0v1.0h-1.0zM175.0 300.0h1.0v1.5h-1.0zM213.0 291.0h2.0v1.0h-2.0zM344.0 285.0h2.0v1.0h-2.0zM117.0 294.0h2.0v1.0h-2.0zM598.0 284.0h1.0v1.5h-1.0zM619.0 284.0h1.0v1.0h-1.0zM513.0 287.0h1.0v1.5h-1.0zM484.0 284.0h2.0v1.0h-2.0zM408.0 277.0h2.0v1.5h-2.0zM292.0 291.0h1.0v1.0h-1.0zM596.0 287.0h1.0v1.5h-1.0zM239.0 291.0h2.0v1.0h-2.0zM398.0 277.0h1.0v1.5h-1.0zM229.0 283.0h2.0v1.0h-2.0zM463.0 282.0h2.0v1.0h-2.0zM617.0 282.0h1.0v1.0h-1.0zM343.0 282.0h2.0v1.0h-2.0zM174.0 292.0h1.0v1.0h-1.0zM505.0 293.0h2.0v1.0h-2.0zM256.0 289.0h1.0v1.0h-1.0zM249.0 300.0h1.0v1.5h-1.0zM165.0 295.0h2.0v1.5h-2.0zM218.0 299.0h2.0v1.5h-2.0zM151.0 290.0h2.0v1.5h-2.0zM442.0 281.0h1.0v1.0h-1.0zM663.0 282.0h1.0v1.0h-1.0zM364.0 282.0h1.0v1.0h-1.0zM419.0 283.0h2.0v1.5h-2.0zM133.0 296.0h2.0v1.0h-2.0zM581.0 277.0h2.0v1.5h-2.0zM234.0 295.0h1.0v1.0h-1.0zM415.0 279.0h2.0v1.5h-2.0zM103.0 293.0h1.0v1.5h-1.0zM431.0 280.0h1.0v1.5h-1.0zM604.0 282.0h1.0v1.0h-1.0zM438.0 277.0h2.0v1.0h-2.0zM232.0 295.0h1.0v1.5h-1.0zM440.0 279.0h1.0v1.5h-1.0zM545.0 292.0h2.0v1.5h-2.0zM185.0 293.0h1.0v1.0h-1.0zM422.0 277.0h1.0v1.0h-1.0zM228.0 287.0h2.0v1.5h-2.0zM185.0 299.0h1.0v1.5h-1.0zM155.0 291.0h1.0v1.0h-1.0zM232.0 287.0h2.0v1.5h-2.0zM689.0 293.0h1.0v1.5h-1.0zM501.0 291.0h2.0v1.5h-2.0zM460.0 267.0h1.0v1.0h-1.0zM413.0 272.0h1.0v1.0h-1.0zM401.0 254.0h2.0v1.5h-2.0zM440.0 265.0h2.0v1.0h-2.0zM428.0 274.0h1.0v1.0h-1.0zM449.0 271.0h1.0v1.5h-1.0zM438.0 269.0h1.0v1.5h-1.0zM454.0 269.0h1.0v1.5h-1.0zM436.0 269.0h2.0v1.5h-2.0zM453.0 264.0h2.0v1.0h-2.0zM468.0 267.0h1.0v1.0h-1.0zM452.0 272.0h1.0v1.5h-1.0zM454.0 271.0h1.0v1.0h-1.0zM470.0 271.0h1.0v1.0h-1.0zM416.0 271.0h1.0v1.0h-1.0zM411.0 270.0h1.0v1.5h-1.0zM416.0 268.0h1.0v1.5h-1.0zM491.0 272.0h2.0v1.5h-2.0zM443.0 269.0h1.0v1.5h-1.0zM468.0 274.0h2.0v1.5h-2.0z"/><path fill="#4080ff" d="M461.0 270.0h2.0v1.0h-2.0zM462.0 265.0h2.0v1.0h-2.0zM505.0 265.0h1.0v1.0h-1.0zM479.0 265.0h2.0v1.0h-2.0zM491.0 270.0h2.0v1.5h-2.0zM510.0 273.0h2.0v1.0h-2.0zM458.0 271.0h1.0v1.5h-1.0zM396.0 274.0h2.0v1.5h-2.0zM507.0 278.0h2.0v1.0h-2.0zM466.0 263.0h1.0v1.5h-1.0zM430.0 270.0h1.0v1.5h-1.0zM444.0 271.0h2.0v1.5h-2.0zM492.0 269.0h2.0v1.0h-2.0zM454.0 273.0h1.0v1.5h-1.0zM499.0 272.0h1.0v1.0h-1.0zM442.0 274.0h2.0v1.5h-2.0zM421.0 270.0h2.0v1.5h-2.0zM417.0 269.0h2.0v1.5h-2.0z"/><ellipse cx="102.2" cy="112.0" rx="1.15" ry="24" fill="#40e8ff"/><ellipse cx="102.2" cy="112.0" rx="1.05" ry="17" fill="#f0ff30"/><ellipse cx="102.2" cy="112.0" rx="0.95" ry="15" fill="#ffa000"/><ellipse cx="102.2" cy="112.0" rx="0.85" ry="13.5" fill="#f01000"/><ellipse cx="102.2" cy="112.0" rx="0.5" ry="9" fill="#a00000"/><ellipse cx="126.8" cy="112.0" rx="1.15" ry="24" fill="#40e8ff"/><ellipse cx="126.8" cy="112.0" rx="1.05" ry="17" fill="#f0ff30"/><ellipse cx="126.8" cy="112.0" rx="0.95" ry="15" fill="#ffa000"/><ellipse cx="126.8" cy="112.0" rx="0.85" ry="13.5" fill="#f01000"/><ellipse cx="126.8" cy="112.0" rx="0.5" ry="9" fill="#a00000"/><ellipse cx="151.4" cy="112.0" rx="1.15" ry="24" fill="#40e8ff"/><ellipse cx="151.4" cy="112.0" rx="1.05" ry="17" fill="#f0ff30"/><ellipse cx="151.4" cy="112.0" rx="0.95" ry="15" fill="#ffa000"/><ellipse cx="151.4" cy="112.0" rx="0.85" ry="13.5" fill="#f01000"/><ellipse cx="151.4" cy="112.0" rx="0.5" ry="9" fill="#a00000"/><ellipse cx="176.1" cy="112.0" rx="1.15" ry="24" fill="#40e8ff"/><ellipse cx="176.1" cy="112.0" rx="1.05" ry="17" fill="#f0ff30"/><ellipse cx="176.1" cy="112.0" rx="0.8" ry="9" fill="#ffa000"/><ellipse cx="200.7" cy="112.0" rx="1.15" ry="24" fill="#40e8ff"/><ellipse cx="200.7" cy="112.0" rx="1.05" ry="17" fill="#f0ff30"/><ellipse cx="200.7" cy="112.0" rx="0.95" ry="15" fill="#ffa000"/><ellipse cx="200.7" cy="112.0" rx="0.85" ry="13.5" fill="#f01000"/><ellipse cx="200.7" cy="112.0" rx="0.5" ry="9" fill="#a00000"/><ellipse cx="225.3" cy="112.0" rx="1.15" ry="24" fill="#40e8ff"/><ellipse cx="225.3" cy="112.0" rx="1.05" ry="17" fill="#f0ff30"/><ellipse cx="225.3" cy="112.0" rx="0.95" ry="15" fill="#ffa000"/><ellipse cx="225.3" cy="112.0" rx="0.85" ry="13.5" fill="#f01000"/><ellipse cx="225.3" cy="112.0" rx="0.5" ry="9" fill="#a00000"/><ellipse cx="249.9" cy="112.0" rx="1.15" ry="24" fill="#40e8ff"/><ellipse cx="249.9" cy="112.0" rx="1.05" ry="17" fill="#f0ff30"/><ellipse cx="249.9" cy="112.0" rx="0.95" ry="15" fill="#ffa000"/><ellipse cx="249.9" cy="112.0" rx="0.85" ry="13.5" fill="#f01000"/><ellipse cx="249.9" cy="112.0" rx="0.5" ry="9" fill="#a00000"/><ellipse cx="274.6" cy="112.0" rx="1.15" ry="24" fill="#40e8ff"/><ellipse cx="274.6" cy="112.0" rx="1.05" ry="17" fill="#f0ff30"/><ellipse cx="274.6" cy="112.0" rx="0.95" ry="15" fill="#ffa000"/><ellipse cx="274.6" cy="112.0" rx="0.85" ry="13.5" fill="#f01000"/><ellipse cx="274.6" cy="112.0" rx="0.5" ry="9" fill="#a00000"/><ellipse cx="299.2" cy="112.0" rx="1.15" ry="24" fill="#40e8ff"/><ellipse cx="299.2" cy="112.0" rx="1.05" ry="17" fill="#f0ff30"/><ellipse cx="299.2" cy="112.0" rx="0.8" ry="9" fill="#ffa000"/><ellipse cx="323.8" cy="112.0" rx="1.15" ry="24" fill="#40e8ff"/><ellipse cx="323.8" cy="112.0" rx="1.05" ry="17" fill="#f0ff30"/><ellipse cx="323.8" cy="112.0" rx="0.95" ry="15" fill="#ffa000"/><ellipse cx="323.8" cy="112.0" rx="0.85" ry="13.5" fill="#f01000"/><ellipse cx="323.8" cy="112.0" rx="0.5" ry="9" fill="#a00000"/><ellipse cx="348.4" cy="112.0" rx="1.15" ry="24" fill="#40e8ff"/><ellipse cx="348.4" cy="112.0" rx="1.05" ry="17" fill="#f0ff30"/><ellipse cx="348.4" cy="112.0" rx="0.95" ry="15" fill="#ffa000"/><ellipse cx="348.4" cy="112.0" rx="0.85" ry="13.5" fill="#f01000"/><ellipse cx="348.4" cy="112.0" rx="0.5" ry="9" fill="#a00000"/><ellipse cx="373.1" cy="112.0" rx="1.15" ry="24" fill="#40e8ff"/><ellipse cx="373.1" cy="112.0" rx="1.05" ry="17" fill="#f0ff30"/><ellipse cx="373.1" cy="112.0" rx="0.95" ry="15" fill="#ffa000"/><ellipse cx="373.1" cy="112.0" rx="0.85" ry="13.5" fill="#f01000"/><ellipse cx="373.1" cy="112.0" rx="0.5" ry="9" fill="#a00000"/><ellipse cx="397.7" cy="112.0" rx="1.15" ry="24" fill="#40e8ff"/><ellipse cx="397.7" cy="112.0" rx="1.05" ry="17" fill="#f0ff30"/><ellipse cx="397.7" cy="112.0" rx="0.95" ry="15" fill="#ffa000"/><ellipse cx="397.7" cy="112.0" rx="0.85" ry="13.5" fill="#f01000"/><ellipse cx="397.7" cy="112.0" rx="0.5" ry="9" fill="#a00000"/><ellipse cx="422.3" cy="112.0" rx="1.15" ry="24" fill="#40e8ff"/><ellipse cx="422.3" cy="112.0" rx="1.05" ry="17" fill="#f0ff30"/><ellipse cx="422.3" cy="112.0" rx="0.95" ry="15" fill="#ffa000"/><ellipse cx="422.3" cy="112.0" rx="0.85" ry="13.5" fill="#f01000"/><ellipse cx="422.3" cy="112.0" rx="0.5" ry="9" fill="#a00000"/><ellipse cx="446.9" cy="112.0" rx="1.15" ry="24" fill="#40e8ff"/><ellipse cx="446.9" cy="112.0" rx="1.05" ry="17" fill="#f0ff30"/><ellipse cx="446.9" cy="112.0" rx="0.95" ry="15" fill="#ffa000"/><ellipse cx="446.9" cy="112.0" rx="0.85" ry="13.5" fill="#f01000"/><ellipse cx="446.9" cy="112.0" rx="0.5" ry="9" fill="#a00000"/><ellipse cx="471.6" cy="112.0" rx="1.15" ry="24" fill="#40e8ff"/><ellipse cx="471.6" cy="112.0" rx="1.05" ry="17" fill="#f0ff30"/><ellipse cx="471.6" cy="112.0" rx="0.95" ry="15" fill="#ffa000"/><ellipse cx="471.6" cy="112.0" rx="0.85" ry="13.5" fill="#f01000"/><ellipse cx="471.6" cy="112.0" rx="0.5" ry="9" fill="#a00000"/><ellipse cx="496.2" cy="112.0" rx="1.15" ry="24" fill="#40e8ff"/><ellipse cx="496.2" cy="112.0" rx="1.05" ry="17" fill="#f0ff30"/><ellipse cx="496.2" cy="112.0" rx="0.95" ry="15" fill="#ffa000"/><ellipse cx="496.2" cy="112.0" rx="0.85" ry="13.5" fill="#f01000"/><ellipse cx="496.2" cy="112.0" rx="0.5" ry="9" fill="#a00000"/><ellipse cx="520.8" cy="112.0" rx="1.15" ry="24" fill="#40e8ff"/><ellipse cx="520.8" cy="112.0" rx="1.05" ry="17" fill="#f0ff30"/><ellipse cx="520.8" cy="112.0" rx="0.8" ry="9" fill="#ffa000"/><ellipse cx="545.5" cy="112.0" rx="1.15" ry="24" fill="#40e8ff"/><ellipse cx="545.5" cy="112.0" rx="1.05" ry="17" fill="#f0ff30"/><ellipse cx="545.5" cy="112.0" rx="0.95" ry="15" fill="#ffa000"/><ellipse cx="545.5" cy="112.0" rx="0.85" ry="13.5" fill="#f01000"/><ellipse cx="545.5" cy="112.0" rx="0.5" ry="9" fill="#a00000"/><ellipse cx="570.1" cy="112.0" rx="1.15" ry="24" fill="#40e8ff"/><ellipse cx="570.1" cy="112.0" rx="1.05" ry="17" fill="#f0ff30"/><ellipse cx="570.1" cy="112.0" rx="0.95" ry="15" fill="#ffa000"/><ellipse cx="570.1" cy="112.0" rx="0.85" ry="13.5" fill="#f01000"/><ellipse cx="570.1" cy="112.0" rx="0.5" ry="9" fill="#a00000"/><ellipse cx="594.7" cy="112.0" rx="1.15" ry="24" fill="#40e8ff"/><ellipse cx="594.7" cy="112.0" rx="1.05" ry="17" fill="#f0ff30"/><ellipse cx="594.7" cy="112.0" rx="0.95" ry="15" fill="#ffa000"/><ellipse cx="594.7" cy="112.0" rx="0.85" ry="13.5" fill="#f01000"/><ellipse cx="594.7" cy="112.0" rx="0.5" ry="9" fill="#a00000"/><ellipse cx="619.3" cy="112.0" rx="1.15" ry="24" fill="#40e8ff"/><ellipse cx="619.3" cy="112.0" rx="1.05" ry="17" fill="#f0ff30"/><ellipse cx="619.3" cy="112.0" rx="0.95" ry="15" fill="#ffa000"/><ellipse cx="619.3" cy="112.0" rx="0.85" ry="13.5" fill="#f01000"/><ellipse cx="619.3" cy="112.0" rx="0.5" ry="9" fill="#a00000"/><ellipse cx="644.0" cy="112.0" rx="1.15" ry="24" fill="#40e8ff"/><ellipse cx="644.0" cy="112.0" rx="1.05" ry="17" fill="#f0ff30"/><ellipse cx="644.0" cy="112.0" rx="0.95" ry="15" fill="#ffa000"/><ellipse cx="644.0" cy="112.0" rx="0.85" ry="13.5" fill="#f01000"/><ellipse cx="644.0" cy="112.0" rx="0.5" ry="9" fill="#a00000"/><ellipse cx="668.6" cy="112.0" rx="1.15" ry="24" fill="#40e8ff"/><ellipse cx="668.6" cy="112.0" rx="1.05" ry="17" fill="#f0ff30"/><ellipse cx="668.6" cy="112.0" rx="0.95" ry="15" fill="#ffa000"/><ellipse cx="668.6" cy="112.0" rx="0.85" ry="13.5" fill="#f01000"/><ellipse cx="668.6" cy="112.0" rx="0.5" ry="9" fill="#a00000"/><ellipse cx="693.2" cy="112.0" rx="1.15" ry="24" fill="#40e8ff"/><ellipse cx="693.2" cy="112.0" rx="1.05" ry="17" fill="#f0ff30"/><ellipse cx="693.2" cy="112.0" rx="0.95" ry="15" fill="#ffa000"/><ellipse cx="693.2" cy="112.0" rx="0.85" ry="13.5" fill="#f01000"/><ellipse cx="693.2" cy="112.0" rx="0.5" ry="9" fill="#a00000"/><ellipse cx="101.0" cy="296.0" rx="1.5" ry="1.4" fill="#90c8ff"/><ellipse cx="104.5" cy="296.2" rx="2.0" ry="1.4" fill="#90c8ff"/><ellipse cx="104.5" cy="296.2" rx="1.3" ry="0.95" fill="#f0ff30"/><ellipse cx="108.5" cy="294.7" rx="3.0" ry="1.4" fill="#90c8ff"/><ellipse cx="108.5" cy="294.7" rx="2.3" ry="0.95" fill="#a0ff60"/><ellipse cx="118.5" cy="293.9" rx="2.0" ry="1.4" fill="#40e8ff"/><ellipse cx="118.5" cy="293.9" rx="1.3" ry="0.95" fill="#f0ff30"/><ellipse cx="121.0" cy="293.8" rx="1.5" ry="1.4" fill="#90c8ff"/><ellipse cx="121.0" cy="293.8" rx="1.0" ry="0.95" fill="#f0ff30"/><ellipse cx="125.0" cy="293.4" rx="3.5" ry="1.4" fill="#90c8ff"/><ellipse cx="131.5" cy="293.5" rx="3.0" ry="1.4" fill="#40e8ff"/><ellipse cx="131.5" cy="293.5" rx="2.3" ry="0.95" fill="#a0ff60"/><ellipse cx="137.0" cy="293.3" rx="3.5" ry="1.4" fill="#60a0ff"/><ellipse cx="137.0" cy="293.3" rx="2.8" ry="0.95" fill="#40e8ff"/><ellipse cx="142.0" cy="293.6" rx="1.5" ry="1.4" fill="#60a0ff"/><ellipse cx="142.0" cy="293.6" rx="1.0" ry="0.95" fill="#f0ff30"/><ellipse cx="147.0" cy="293.6" rx="3.5" ry="1.4" fill="#90c8ff"/><ellipse cx="147.0" cy="293.6" rx="2.8" ry="0.95" fill="#f0ff30"/><ellipse cx="152.5" cy="294.1" rx="2.0" ry="1.4" fill="#90c8ff"/><ellipse cx="156.0" cy="294.0" rx="2.5" ry="1.4" fill="#60a0ff"/><ellipse cx="156.0" cy="294.0" rx="1.8" ry="0.95" fill="#f0ff30"/><ellipse cx="159.0" cy="293.9" rx="1.5" ry="1.4" fill="#40e8ff"/><ellipse cx="164.0" cy="294.1" rx="3.5" ry="1.4" fill="#60a0ff"/><ellipse cx="168.5" cy="295.2" rx="2.0" ry="1.4" fill="#60a0ff"/><ellipse cx="168.5" cy="295.2" rx="1.3" ry="0.95" fill="#f0ff30"/><ellipse cx="173.5" cy="295.2" rx="3.0" ry="1.4" fill="#90c8ff"/><ellipse cx="173.5" cy="295.2" rx="2.3" ry="0.95" fill="#a0ff60"/><ellipse cx="179.0" cy="295.4" rx="1.5" ry="1.4" fill="#90c8ff"/><ellipse cx="185.0" cy="295.4" rx="3.5" ry="1.4" fill="#60a0ff"/><ellipse cx="185.0" cy="295.4" rx="2.8" ry="0.95" fill="#40e8ff"/><ellipse cx="191.0" cy="296.3" rx="3.5" ry="1.4" fill="#40e8ff"/><ellipse cx="202.0" cy="295.9" rx="2.5" ry="1.4" fill="#90c8ff"/><ellipse cx="202.0" cy="295.9" rx="1.8" ry="0.95" fill="#f0ff30"/><ellipse cx="206.0" cy="296.6" rx="2.5" ry="1.4" fill="#60a0ff"/><ellipse cx="211.0" cy="296.0" rx="2.5" ry="1.4" fill="#40e8ff"/><ellipse cx="211.0" cy="296.0" rx="1.8" ry="0.95" fill="#f0ff30"/><ellipse cx="216.0" cy="296.6" rx="3.5" ry="1.4" fill="#90c8ff"/><ellipse cx="220.5" cy="295.6" rx="2.0" ry="1.4" fill="#90c8ff"/><ellipse cx="220.5" cy="295.6" rx="1.3" ry="0.95" fill="#40e8ff"/><ellipse cx="223.0" cy="296.2" rx="1.5" ry="1.4" fill="#40e8ff"/><ellipse cx="229.0" cy="295.9" rx="3.5" ry="1.4" fill="#60a0ff"/><ellipse cx="235.0" cy="295.7" rx="3.5" ry="1.4" fill="#60a0ff"/><ellipse cx="240.5" cy="295.8" rx="2.0" ry="1.4" fill="#40e8ff"/><ellipse cx="240.5" cy="295.8" rx="1.3" ry="0.95" fill="#ffa000"/><ellipse cx="244.5" cy="295.7" rx="3.0" ry="1.4" fill="#40e8ff"/><ellipse cx="252.5" cy="296.5" rx="2.0" ry="1.4" fill="#90c8ff"/><ellipse cx="252.5" cy="296.5" rx="1.3" ry="0.95" fill="#a0ff60"/><ellipse cx="257.5" cy="295.4" rx="3.0" ry="1.4" fill="#90c8ff"/><ellipse cx="257.5" cy="295.4" rx="2.3" ry="0.95" fill="#a0ff60"/><ellipse cx="263.5" cy="292.0" rx="3.0" ry="1.4" fill="#90c8ff"/><ellipse cx="263.5" cy="292.0" rx="2.3" ry="0.95" fill="#ffa000"/><ellipse cx="268.0" cy="291.5" rx="2.5" ry="1.4" fill="#40e8ff"/><ellipse cx="268.0" cy="291.5" rx="1.8" ry="0.95" fill="#ffa000"/><ellipse cx="274.5" cy="290.9" rx="3.0" ry="1.4" fill="#40e8ff"/><ellipse cx="274.5" cy="290.9" rx="2.3" ry="0.95" fill="#ffa000"/><ellipse cx="278.5" cy="290.5" rx="2.0" ry="1.4" fill="#90c8ff"/><ellipse cx="278.5" cy="290.5" rx="1.3" ry="0.95" fill="#f0ff30"/><ellipse cx="282.5" cy="290.2" rx="2.0" ry="1.4" fill="#40e8ff"/><ellipse cx="282.5" cy="290.2" rx="1.3" ry="0.95" fill="#f0ff30"/><ellipse cx="287.0" cy="289.9" rx="3.5" ry="1.4" fill="#40e8ff"/><ellipse cx="287.0" cy="289.9" rx="2.8" ry="0.95" fill="#f0ff30"/><ellipse cx="292.0" cy="288.1" rx="1.5" ry="1.4" fill="#40e8ff"/><ellipse cx="292.0" cy="288.1" rx="1.0" ry="0.95" fill="#f0ff30"/><ellipse cx="296.0" cy="287.6" rx="2.5" ry="1.4" fill="#40e8ff"/><ellipse cx="296.0" cy="287.6" rx="1.8" ry="0.95" fill="#f0ff30"/><ellipse cx="301.5" cy="287.7" rx="3.0" ry="1.4" fill="#40e8ff"/><ellipse cx="301.5" cy="287.7" rx="2.3" ry="0.95" fill="#f0ff30"/><ellipse cx="307.5" cy="286.8" rx="3.0" ry="1.4" fill="#90c8ff"/><ellipse cx="307.5" cy="286.8" rx="2.3" ry="0.95" fill="#ffa000"/><ellipse cx="313.5" cy="286.5" rx="3.0" ry="1.4" fill="#40e8ff"/><ellipse cx="320.0" cy="285.9" rx="3.5" ry="1.4" fill="#40e8ff"/><ellipse cx="320.0" cy="285.9" rx="2.8" ry="0.95" fill="#a0ff60"/><ellipse cx="327.0" cy="286.5" rx="2.5" ry="1.4" fill="#90c8ff"/><ellipse cx="327.0" cy="286.5" rx="1.8" ry="0.95" fill="#f0ff30"/><ellipse cx="331.5" cy="285.6" rx="2.0" ry="1.4" fill="#90c8ff"/><ellipse cx="331.5" cy="285.6" rx="1.3" ry="0.95" fill="#ffa000"/><ellipse cx="336.5" cy="285.5" rx="2.0" ry="1.4" fill="#40e8ff"/><ellipse cx="336.5" cy="285.5" rx="1.3" ry="0.95" fill="#f01000"/><ellipse cx="340.0" cy="285.5" rx="2.5" ry="1.4" fill="#40e8ff"/><ellipse cx="340.0" cy="285.5" rx="1.8" ry="0.95" fill="#f01000"/><ellipse cx="343.5" cy="285.4" rx="2.0" ry="1.4" fill="#90c8ff"/><ellipse cx="347.0" cy="285.8" rx="2.5" ry="1.4" fill="#90c8ff"/><ellipse cx="347.0" cy="285.8" rx="1.8" ry="0.95" fill="#f0ff30"/><ellipse cx="351.0" cy="285.4" rx="2.5" ry="1.4" fill="#40e8ff"/><ellipse cx="351.0" cy="285.4" rx="1.8" ry="0.95" fill="#ffa000"/><ellipse cx="357.0" cy="284.8" rx="2.5" ry="1.4" fill="#40e8ff"/><ellipse cx="357.0" cy="284.8" rx="1.8" ry="0.95" fill="#ffa000"/><ellipse cx="362.0" cy="284.4" rx="3.5" ry="1.4" fill="#40e8ff"/><ellipse cx="362.0" cy="284.4" rx="2.8" ry="0.95" fill="#ffff80"/><ellipse cx="368.0" cy="283.7" rx="2.5" ry="1.4" fill="#90c8ff"/><ellipse cx="368.0" cy="283.7" rx="1.8" ry="0.95" fill="#f01000"/><ellipse cx="372.5" cy="283.2" rx="2.0" ry="1.4" fill="#40e8ff"/><ellipse cx="372.5" cy="283.2" rx="1.3" ry="0.95" fill="#ffff80"/><ellipse cx="376.0" cy="283.0" rx="2.5" ry="1.4" fill="#40e8ff"/><ellipse cx="376.0" cy="283.0" rx="1.8" ry="0.95" fill="#f0ff30"/><ellipse cx="380.5" cy="282.5" rx="2.0" ry="1.4" fill="#40e8ff"/><ellipse cx="380.5" cy="282.5" rx="1.3" ry="0.95" fill="#ffff80"/><ellipse cx="384.5" cy="281.6" rx="3.0" ry="1.4" fill="#40e8ff"/><ellipse cx="384.5" cy="281.6" rx="2.3" ry="0.95" fill="#f0ff30"/><ellipse cx="389.5" cy="281.8" rx="2.0" ry="1.4" fill="#40e8ff"/><ellipse cx="389.5" cy="281.8" rx="1.3" ry="0.95" fill="#ffff80"/><ellipse cx="395.5" cy="281.1" rx="3.0" ry="1.4" fill="#40e8ff"/><ellipse cx="395.5" cy="281.1" rx="2.3" ry="0.95" fill="#f01000"/><ellipse cx="399.5" cy="280.9" rx="2.0" ry="1.4" fill="#90c8ff"/><ellipse cx="399.5" cy="280.9" rx="1.3" ry="0.95" fill="#ffa000"/><ellipse cx="402.5" cy="279.8" rx="2.0" ry="1.4" fill="#40e8ff"/><ellipse cx="402.5" cy="279.8" rx="1.3" ry="0.95" fill="#ffff80"/><ellipse cx="407.0" cy="280.2" rx="2.5" ry="1.4" fill="#90c8ff"/><ellipse cx="407.0" cy="280.2" rx="1.8" ry="0.95" fill="#ffa000"/><ellipse cx="411.5" cy="279.1" rx="2.0" ry="1.4" fill="#40e8ff"/><ellipse cx="411.5" cy="279.1" rx="1.3" ry="0.95" fill="#ffa000"/><ellipse cx="414.5" cy="278.6" rx="2.0" ry="1.4" fill="#40e8ff"/><ellipse cx="414.5" cy="278.6" rx="1.3" ry="0.95" fill="#f0ff30"/><ellipse cx="417.0" cy="279.6" rx="1.5" ry="1.4" fill="#90c8ff"/><ellipse cx="417.0" cy="279.6" rx="1.0" ry="0.95" fill="#f0ff30"/><ellipse cx="421.0" cy="278.4" rx="3.5" ry="1.4" fill="#40e8ff"/><ellipse cx="432.0" cy="278.8" rx="2.5" ry="1.4" fill="#40e8ff"/><ellipse cx="432.0" cy="278.8" rx="1.8" ry="0.95" fill="#f0ff30"/><ellipse cx="438.0" cy="279.1" rx="2.5" ry="1.4" fill="#40e8ff"/><ellipse cx="438.0" cy="279.1" rx="1.8" ry="0.95" fill="#f01000"/><ellipse cx="442.0" cy="279.3" rx="2.5" ry="1.4" fill="#40e8ff"/><ellipse cx="446.5" cy="278.6" rx="2.0" ry="1.4" fill="#40e8ff"/><ellipse cx="446.5" cy="278.6" rx="1.3" ry="0.95" fill="#ffa000"/><ellipse cx="450.0" cy="278.6" rx="1.5" ry="1.4" fill="#90c8ff"/><ellipse cx="450.0" cy="278.6" rx="1.0" ry="0.95" fill="#ffa000"/><ellipse cx="454.0" cy="278.9" rx="1.5" ry="1.4" fill="#90c8ff"/><ellipse cx="454.0" cy="278.9" rx="1.0" ry="0.95" fill="#ffa000"/><ellipse cx="458.5" cy="279.2" rx="3.0" ry="1.4" fill="#40e8ff"/><ellipse cx="458.5" cy="279.2" rx="2.3" ry="0.95" fill="#ffff80"/><ellipse cx="462.5" cy="279.3" rx="2.0" ry="1.4" fill="#40e8ff"/><ellipse cx="462.5" cy="279.3" rx="1.3" ry="0.95" fill="#f0ff30"/><ellipse cx="467.5" cy="280.7" rx="2.0" ry="1.4" fill="#40e8ff"/><ellipse cx="467.5" cy="280.7" rx="1.3" ry="0.95" fill="#ffff80"/><ellipse cx="473.0" cy="281.8" rx="2.5" ry="1.4" fill="#90c8ff"/><ellipse cx="473.0" cy="281.8" rx="1.8" ry="0.95" fill="#f0ff30"/><ellipse cx="477.0" cy="281.9" rx="2.5" ry="1.4" fill="#40e8ff"/><ellipse cx="477.0" cy="281.9" rx="1.8" ry="0.95" fill="#ffa000"/><ellipse cx="483.0" cy="283.2" rx="3.5" ry="1.4" fill="#40e8ff"/><ellipse cx="483.0" cy="283.2" rx="2.8" ry="0.95" fill="#f0ff30"/><ellipse cx="487.5" cy="285.2" rx="2.0" ry="1.4" fill="#90c8ff"/><ellipse cx="487.5" cy="285.2" rx="1.3" ry="0.95" fill="#ffff80"/><ellipse cx="490.5" cy="285.0" rx="2.0" ry="1.4" fill="#40e8ff"/><ellipse cx="490.5" cy="285.0" rx="1.3" ry="0.95" fill="#ffff80"/><ellipse cx="502.5" cy="286.8" rx="2.0" ry="1.4" fill="#40e8ff"/><ellipse cx="502.5" cy="286.8" rx="1.3" ry="0.95" fill="#f0ff30"/><ellipse cx="505.0" cy="286.9" rx="1.5" ry="1.4" fill="#40e8ff"/><ellipse cx="505.0" cy="286.9" rx="1.0" ry="0.95" fill="#f01000"/><ellipse cx="507.5" cy="286.2" rx="2.0" ry="1.4" fill="#90c8ff"/><ellipse cx="507.5" cy="286.2" rx="1.3" ry="0.95" fill="#ffa000"/><ellipse cx="511.5" cy="286.9" rx="2.0" ry="1.4" fill="#40e8ff"/><ellipse cx="511.5" cy="286.9" rx="1.3" ry="0.95" fill="#f01000"/><ellipse cx="514.5" cy="286.8" rx="2.0" ry="1.4" fill="#90c8ff"/><ellipse cx="514.5" cy="286.8" rx="1.3" ry="0.95" fill="#f01000"/><ellipse cx="517.5" cy="286.4" rx="2.0" ry="1.4" fill="#90c8ff"/><ellipse cx="517.5" cy="286.4" rx="1.3" ry="0.95" fill="#ffa000"/><ellipse cx="521.0" cy="286.1" rx="2.5" ry="1.4" fill="#90c8ff"/><ellipse cx="521.0" cy="286.1" rx="1.8" ry="0.95" fill="#f0ff30"/><ellipse cx="524.0" cy="287.3" rx="1.5" ry="1.4" fill="#40e8ff"/><ellipse cx="524.0" cy="287.3" rx="1.0" ry="0.95" fill="#f0ff30"/><ellipse cx="528.5" cy="286.6" rx="3.0" ry="1.4" fill="#40e8ff"/><ellipse cx="528.5" cy="286.6" rx="2.3" ry="0.95" fill="#f0ff30"/><ellipse cx="534.5" cy="287.0" rx="2.0" ry="1.4" fill="#90c8ff"/><ellipse cx="534.5" cy="287.0" rx="1.3" ry="0.95" fill="#f0ff30"/><ellipse cx="537.5" cy="286.5" rx="2.0" ry="1.4" fill="#40e8ff"/><ellipse cx="537.5" cy="286.5" rx="1.3" ry="0.95" fill="#f0ff30"/><ellipse cx="540.5" cy="287.0" rx="2.0" ry="1.4" fill="#40e8ff"/><ellipse cx="540.5" cy="287.0" rx="1.3" ry="0.95" fill="#f0ff30"/><ellipse cx="544.0" cy="285.8" rx="2.5" ry="1.4" fill="#40e8ff"/><ellipse cx="544.0" cy="285.8" rx="1.8" ry="0.95" fill="#f0ff30"/><ellipse cx="547.5" cy="286.2" rx="2.0" ry="1.4" fill="#40e8ff"/><ellipse cx="547.5" cy="286.2" rx="1.3" ry="0.95" fill="#f0ff30"/><ellipse cx="556.0" cy="285.4" rx="2.5" ry="1.4" fill="#90c8ff"/><ellipse cx="556.0" cy="285.4" rx="1.8" ry="0.95" fill="#f0ff30"/><ellipse cx="561.5" cy="284.1" rx="2.0" ry="1.4" fill="#40e8ff"/><ellipse cx="561.5" cy="284.1" rx="1.3" ry="0.95" fill="#f0ff30"/><ellipse cx="572.0" cy="284.0" rx="2.5" ry="1.4" fill="#90c8ff"/><ellipse cx="572.0" cy="284.0" rx="1.8" ry="0.95" fill="#f0ff30"/><ellipse cx="577.5" cy="283.9" rx="3.0" ry="1.4" fill="#90c8ff"/><ellipse cx="577.5" cy="283.9" rx="2.3" ry="0.95" fill="#f01000"/><ellipse cx="582.0" cy="283.6" rx="2.5" ry="1.4" fill="#40e8ff"/><ellipse cx="582.0" cy="283.6" rx="1.8" ry="0.95" fill="#ffff80"/><ellipse cx="589.5" cy="283.4" rx="2.0" ry="1.4" fill="#40e8ff"/><ellipse cx="589.5" cy="283.4" rx="1.3" ry="0.95" fill="#f0ff30"/><ellipse cx="595.0" cy="283.8" rx="2.5" ry="1.4" fill="#40e8ff"/><ellipse cx="595.0" cy="283.8" rx="1.8" ry="0.95" fill="#ffa000"/><ellipse cx="606.5" cy="285.4" rx="2.0" ry="1.4" fill="#40e8ff"/><ellipse cx="606.5" cy="285.4" rx="1.3" ry="0.95" fill="#ffa000"/><ellipse cx="611.0" cy="285.8" rx="2.5" ry="1.4" fill="#90c8ff"/><ellipse cx="611.0" cy="285.8" rx="1.8" ry="0.95" fill="#f0ff30"/><ellipse cx="616.0" cy="286.7" rx="2.5" ry="1.4" fill="#90c8ff"/><ellipse cx="616.0" cy="286.7" rx="1.8" ry="0.95" fill="#f01000"/><ellipse cx="619.5" cy="286.7" rx="2.0" ry="1.4" fill="#40e8ff"/><ellipse cx="619.5" cy="286.7" rx="1.3" ry="0.95" fill="#ffa000"/><ellipse cx="622.0" cy="287.5" rx="1.5" ry="1.4" fill="#40e8ff"/><ellipse cx="622.0" cy="287.5" rx="1.0" ry="0.95" fill="#ffa000"/><ellipse cx="627.0" cy="287.9" rx="3.5" ry="1.4" fill="#40e8ff"/><ellipse cx="627.0" cy="287.9" rx="2.8" ry="0.95" fill="#f0ff30"/><ellipse cx="639.5" cy="287.8" rx="2.0" ry="1.4" fill="#40e8ff"/><ellipse cx="639.5" cy="287.8" rx="1.3" ry="0.95" fill="#f0ff30"/><ellipse cx="644.5" cy="288.1" rx="2.0" ry="1.4" fill="#90c8ff"/><ellipse cx="644.5" cy="288.1" rx="1.3" ry="0.95" fill="#ffa000"/><ellipse cx="647.5" cy="287.4" rx="2.0" ry="1.4" fill="#40e8ff"/><ellipse cx="647.5" cy="287.4" rx="1.3" ry="0.95" fill="#f0ff30"/><ellipse cx="651.5" cy="287.2" rx="2.0" ry="1.4" fill="#40e8ff"/><ellipse cx="651.5" cy="287.2" rx="1.3" ry="0.95" fill="#ffff80"/><ellipse cx="657.0" cy="287.0" rx="3.5" ry="1.4" fill="#40e8ff"/><ellipse cx="657.0" cy="287.0" rx="2.8" ry="0.95" fill="#ffa000"/><ellipse cx="661.5" cy="286.7" rx="2.0" ry="1.4" fill="#90c8ff"/><ellipse cx="661.5" cy="286.7" rx="1.3" ry="0.95" fill="#ffff80"/><ellipse cx="665.0" cy="286.8" rx="1.5" ry="1.4" fill="#90c8ff"/><ellipse cx="665.0" cy="286.8" rx="1.0" ry="0.95" fill="#ffa000"/><ellipse cx="670.0" cy="286.2" rx="2.5" ry="1.4" fill="#40e8ff"/><ellipse cx="670.0" cy="286.2" rx="1.8" ry="0.95" fill="#ffff80"/><ellipse cx="675.0" cy="286.9" rx="2.5" ry="1.4" fill="#40e8ff"/><ellipse cx="675.0" cy="286.9" rx="1.8" ry="0.95" fill="#ffa000"/><ellipse cx="679.0" cy="287.7" rx="2.5" ry="1.4" fill="#40e8ff"/><ellipse cx="679.0" cy="287.7" rx="1.8" ry="0.95" fill="#ffa000"/><ellipse cx="686.0" cy="288.8" rx="3.5" ry="1.4" fill="#90c8ff"/><ellipse cx="686.0" cy="288.8" rx="2.8" ry="0.95" fill="#ffa000"/><ellipse cx="692.0" cy="290.1" rx="2.5" ry="1.4" fill="#90c8ff"/><ellipse cx="692.0" cy="290.1" rx="1.8" ry="0.95" fill="#f0ff30"/><ellipse cx="694.0" cy="291.3" rx="2.0" ry="1.4" fill="#40e8ff"/><ellipse cx="694.0" cy="291.3" rx="1.3" ry="0.95" fill="#ffff80"/><rect x="101.2" y="409.0" width="2.0" height="40.0" rx="0.8" fill="#40e8ff"/><rect x="101.4" y="411.0" width="1.6" height="14.0" rx="0.8" fill="#ffa000"/><rect x="101.4" y="427.0" width="1.6" height="10.0" rx="0.8" fill="#f0ff30"/><rect x="101.4" y="439.0" width="1.6" height="8.0" rx="0.8" fill="#a0ff60"/><rect x="101.5" y="436.7" width="1.3" height="8.0" rx="0.8" fill="#f01000"/><rect x="101.5" y="426.9" width="1.3" height="4.0" rx="0.8" fill="#f01000"/><rect x="125.8" y="409.0" width="2.0" height="40.0" rx="0.8" fill="#40e8ff"/><rect x="126.0" y="411.0" width="1.6" height="8.0" rx="0.8" fill="#d0ff40"/><rect x="126.0" y="422.0" width="1.6" height="10.0" rx="0.8" fill="#f0ff30"/><rect x="126.0" y="434.0" width="1.6" height="13.0" rx="0.8" fill="#f0ff30"/><rect x="150.4" y="409.0" width="2.0" height="40.0" rx="0.8" fill="#40e8ff"/><rect x="150.6" y="426.0" width="1.6" height="10.0" rx="0.8" fill="#a0ff60"/><rect x="150.6" y="438.0" width="1.6" height="9.0" rx="0.8" fill="#a0ff60"/><rect x="175.1" y="409.0" width="2.0" height="40.0" rx="0.8" fill="#40e8ff"/><rect x="175.3" y="411.0" width="1.6" height="10.0" rx="0.8" fill="#d0ff40"/><rect x="175.3" y="422.0" width="1.6" height="8.0" rx="0.8" fill="#d0ff40"/><rect x="175.3" y="432.0" width="1.6" height="10.0" rx="0.8" fill="#f0ff30"/><rect x="175.3" y="443.0" width="1.6" height="4.0" rx="0.8" fill="#f0ff30"/><rect x="199.7" y="409.0" width="2.0" height="40.0" rx="0.8" fill="#40e8ff"/><rect x="199.9" y="411.0" width="1.6" height="8.0" rx="0.8" fill="#a0ff60"/><rect x="199.9" y="420.0" width="1.6" height="12.0" rx="0.8" fill="#a0ff60"/><rect x="199.9" y="434.0" width="1.6" height="13.0" rx="0.8" fill="#f0ff30"/><rect x="200.0" y="439.9" width="1.3" height="6.0" rx="0.8" fill="#ffa000"/><rect x="200.0" y="425.4" width="1.3" height="4.0" rx="0.8" fill="#f01000"/><rect x="224.3" y="409.0" width="2.0" height="40.0" rx="0.8" fill="#40e8ff"/><rect x="224.5" y="411.0" width="1.6" height="6.0" rx="0.8" fill="#f0ff30"/><rect x="224.5" y="419.0" width="1.6" height="10.0" rx="0.8" fill="#f0ff30"/><rect x="224.5" y="432.0" width="1.6" height="8.0" rx="0.8" fill="#ffa000"/><rect x="224.5" y="443.0" width="1.6" height="4.0" rx="0.8" fill="#f0ff30"/><rect x="224.7" y="433.0" width="1.3" height="4.0" rx="0.8" fill="#ffa000"/><rect x="248.9" y="409.0" width="2.0" height="40.0" rx="0.8" fill="#40e8ff"/><rect x="249.1" y="411.0" width="1.6" height="12.0" rx="0.8" fill="#ffa000"/><rect x="249.1" y="425.0" width="1.6" height="6.0" rx="0.8" fill="#f0ff30"/><rect x="249.1" y="434.0" width="1.6" height="13.0" rx="0.8" fill="#d0ff40"/><rect x="249.3" y="421.1" width="1.3" height="6.0" rx="0.8" fill="#f01000"/><rect x="273.6" y="409.0" width="2.0" height="40.0" rx="0.8" fill="#40e8ff"/><rect x="273.8" y="411.0" width="1.6" height="10.0" rx="0.8" fill="#a0ff60"/><rect x="273.8" y="433.0" width="1.6" height="12.0" rx="0.8" fill="#ffa000"/><rect x="273.8" y="446.0" width="1.6" height="1.0" rx="0.8" fill="#ffa000"/><rect x="273.9" y="422.5" width="1.3" height="8.0" rx="0.8" fill="#f01000"/><rect x="298.2" y="409.0" width="2.0" height="40.0" rx="0.8" fill="#40e8ff"/><rect x="298.4" y="424.0" width="1.6" height="12.0" rx="0.8" fill="#ffa000"/><rect x="298.4" y="439.0" width="1.6" height="8.0" rx="0.8" fill="#d0ff40"/><rect x="298.6" y="419.8" width="1.3" height="4.0" rx="0.8" fill="#f01000"/><rect x="298.6" y="434.2" width="1.3" height="8.0" rx="0.8" fill="#f01000"/><rect x="322.8" y="409.0" width="2.0" height="40.0" rx="0.8" fill="#40e8ff"/><rect x="323.0" y="411.0" width="1.6" height="6.0" rx="0.8" fill="#a0ff60"/><rect x="323.0" y="420.0" width="1.6" height="6.0" rx="0.8" fill="#f0ff30"/><rect x="323.0" y="427.0" width="1.6" height="10.0" rx="0.8" fill="#d0ff40"/><rect x="323.0" y="440.0" width="1.6" height="7.0" rx="0.8" fill="#f0ff30"/><rect x="323.2" y="439.6" width="1.3" height="4.0" rx="0.8" fill="#ffa000"/><rect x="347.4" y="409.0" width="2.0" height="40.0" rx="0.8" fill="#40e8ff"/><rect x="347.6" y="411.0" width="1.6" height="14.0" rx="0.8" fill="#f0ff30"/><rect x="347.6" y="427.0" width="1.6" height="10.0" rx="0.8" fill="#a0ff60"/><rect x="347.6" y="438.0" width="1.6" height="9.0" rx="0.8" fill="#f0ff30"/><rect x="347.8" y="422.8" width="1.3" height="4.0" rx="0.8" fill="#f01000"/><rect x="372.1" y="409.0" width="2.0" height="40.0" rx="0.8" fill="#40e8ff"/><rect x="372.3" y="411.0" width="1.6" height="10.0" rx="0.8" fill="#f0ff30"/><rect x="372.3" y="424.0" width="1.6" height="14.0" rx="0.8" fill="#a0ff60"/><rect x="372.3" y="440.0" width="1.6" height="6.0" rx="0.8" fill="#d0ff40"/><rect x="372.4" y="421.3" width="1.3" height="4.0" rx="0.8" fill="#ffa000"/><rect x="396.7" y="409.0" width="2.0" height="40.0" rx="0.8" fill="#40e8ff"/><rect x="396.9" y="411.0" width="1.6" height="8.0" rx="0.8" fill="#d0ff40"/><rect x="396.9" y="421.0" width="1.6" height="12.0" rx="0.8" fill="#a0ff60"/><rect x="396.9" y="436.0" width="1.6" height="11.0" rx="0.8" fill="#f0ff30"/><rect x="421.3" y="409.0" width="2.0" height="40.0" rx="0.8" fill="#40e8ff"/><rect x="421.5" y="411.0" width="1.6" height="6.0" rx="0.8" fill="#f0ff30"/><rect x="421.5" y="420.0" width="1.6" height="12.0" rx="0.8" fill="#d0ff40"/><rect x="421.5" y="435.0" width="1.6" height="12.0" rx="0.8" fill="#ffa000"/><rect x="445.9" y="409.0" width="2.0" height="40.0" rx="0.8" fill="#40e8ff"/><rect x="446.1" y="411.0" width="1.6" height="8.0" rx="0.8" fill="#f0ff30"/><rect x="446.1" y="422.0" width="1.6" height="14.0" rx="0.8" fill="#ffa000"/><rect x="446.1" y="437.0" width="1.6" height="10.0" rx="0.8" fill="#f0ff30"/><rect x="446.3" y="433.2" width="1.3" height="8.0" rx="0.8" fill="#f01000"/><rect x="470.6" y="409.0" width="2.0" height="40.0" rx="0.8" fill="#40e8ff"/><rect x="470.8" y="411.0" width="1.6" height="6.0" rx="0.8" fill="#f0ff30"/><rect x="470.8" y="419.0" width="1.6" height="8.0" rx="0.8" fill="#ffa000"/><rect x="470.8" y="430.0" width="1.6" height="8.0" rx="0.8" fill="#f0ff30"/><rect x="470.8" y="441.0" width="1.6" height="6.0" rx="0.8" fill="#f0ff30"/><rect x="470.9" y="429.2" width="1.3" height="4.0" rx="0.8" fill="#ffa000"/><rect x="470.9" y="431.7" width="1.3" height="4.0" rx="0.8" fill="#ffa000"/><rect x="495.2" y="409.0" width="2.0" height="40.0" rx="0.8" fill="#40e8ff"/><rect x="495.4" y="411.0" width="1.6" height="14.0" rx="0.8" fill="#ffa000"/><rect x="495.4" y="428.0" width="1.6" height="14.0" rx="0.8" fill="#f0ff30"/><rect x="495.4" y="443.0" width="1.6" height="4.0" rx="0.8" fill="#ffa000"/><rect x="519.8" y="409.0" width="2.0" height="40.0" rx="0.8" fill="#40e8ff"/><rect x="520.0" y="411.0" width="1.6" height="14.0" rx="0.8" fill="#d0ff40"/><rect x="520.0" y="426.0" width="1.6" height="12.0" rx="0.8" fill="#a0ff60"/><rect x="520.0" y="439.0" width="1.6" height="8.0" rx="0.8" fill="#f0ff30"/><rect x="544.5" y="409.0" width="2.0" height="40.0" rx="0.8" fill="#40e8ff"/><rect x="544.7" y="411.0" width="1.6" height="8.0" rx="0.8" fill="#f0ff30"/><rect x="544.7" y="420.0" width="1.6" height="6.0" rx="0.8" fill="#f0ff30"/><rect x="544.7" y="427.0" width="1.6" height="8.0" rx="0.8" fill="#f0ff30"/><rect x="544.7" y="437.0" width="1.6" height="6.0" rx="0.8" fill="#d0ff40"/><rect x="544.7" y="446.0" width="1.6" height="1.0" rx="0.8" fill="#f0ff30"/><rect x="544.8" y="421.5" width="1.3" height="4.0" rx="0.8" fill="#f01000"/><rect x="569.1" y="409.0" width="2.0" height="40.0" rx="0.8" fill="#40e8ff"/><rect x="569.3" y="411.0" width="1.6" height="14.0" rx="0.8" fill="#ffa000"/><rect x="569.3" y="426.0" width="1.6" height="12.0" rx="0.8" fill="#d0ff40"/><rect x="569.3" y="440.0" width="1.6" height="7.0" rx="0.8" fill="#a0ff60"/><rect x="569.4" y="433.9" width="1.3" height="8.0" rx="0.8" fill="#ffa000"/><rect x="593.7" y="409.0" width="2.0" height="40.0" rx="0.8" fill="#40e8ff"/><rect x="593.9" y="411.0" width="1.6" height="8.0" rx="0.8" fill="#d0ff40"/><rect x="593.9" y="420.0" width="1.6" height="8.0" rx="0.8" fill="#d0ff40"/><rect x="593.9" y="430.0" width="1.6" height="12.0" rx="0.8" fill="#ffa000"/><rect x="593.9" y="444.0" width="1.6" height="3.0" rx="0.8" fill="#f0ff30"/><rect x="594.1" y="419.8" width="1.3" height="6.0" rx="0.8" fill="#f01000"/><rect x="618.3" y="409.0" width="2.0" height="40.0" rx="0.8" fill="#40e8ff"/><rect x="618.5" y="411.0" width="1.6" height="12.0" rx="0.8" fill="#a0ff60"/><rect x="618.5" y="425.0" width="1.6" height="8.0" rx="0.8" fill="#ffa000"/><rect x="618.5" y="434.0" width="1.6" height="8.0" rx="0.8" fill="#a0ff60"/><rect x="618.5" y="444.0" width="1.6" height="3.0" rx="0.8" fill="#f0ff30"/><rect x="618.7" y="424.4" width="1.3" height="4.0" rx="0.8" fill="#f01000"/><rect x="643.0" y="409.0" width="2.0" height="40.0" rx="0.8" fill="#40e8ff"/><rect x="643.2" y="411.0" width="1.6" height="10.0" rx="0.8" fill="#ffa000"/><rect x="643.2" y="422.0" width="1.6" height="10.0" rx="0.8" fill="#f0ff30"/><rect x="643.2" y="434.0" width="1.6" height="10.0" rx="0.8" fill="#a0ff60"/><rect x="643.3" y="432.8" width="1.3" height="4.0" rx="0.8" fill="#f01000"/><rect x="667.6" y="409.0" width="2.0" height="40.0" rx="0.8" fill="#40e8ff"/><rect x="667.8" y="411.0" width="1.6" height="6.0" rx="0.8" fill="#d0ff40"/><rect x="667.8" y="419.0" width="1.6" height="12.0" rx="0.8" fill="#d0ff40"/><rect x="667.8" y="432.0" width="1.6" height="6.0" rx="0.8" fill="#a0ff60"/><rect x="667.8" y="441.0" width="1.6" height="6.0" rx="0.8" fill="#d0ff40"/><rect x="667.9" y="419.6" width="1.3" height="4.0" rx="0.8" fill="#f01000"/><rect x="692.2" y="409.0" width="2.0" height="40.0" rx="0.8" fill="#40e8ff"/><rect x="692.4" y="411.0" width="1.6" height="14.0" rx="0.8" fill="#a0ff60"/><rect x="692.4" y="427.0" width="1.6" height="14.0" rx="0.8" fill="#d0ff40"/><rect x="692.4" y="444.0" width="1.6" height="3.0" rx="0.8" fill="#f0ff30"/><rect x="692.6" y="426.7" width="1.3" height="8.0" rx="0.8" fill="#f01000"/></g>
<rect x="728" y="569.73" width="33" height="8.67" fill="#00008f"/><rect x="728" y="561.45" width="33" height="8.67" fill="#00009f"/><rect x="728" y="553.18" width="33" height="8.67" fill="#0000af"/><rect x="728" y="544.91" width="33" height="8.67" fill="#0000bf"/><rect x="728" y="536.63" width="33" height="8.67" fill="#0000cf"/><rect x="728" y="528.36" width="33" height="8.67" fill="#0000df"/><rect x="728" y="520.09" width="33" height="8.67" fill="#0000ef"/><rect x="728" y="511.81" width="33" height="8.67" fill="#0000ff"/><rect x="728" y="503.54" width="33" height="8.67" fill="#0010ff"/><rect x="728" y="495.27" width="33" height="8.67" fill="#0020ff"/><rect x="728" y="486.99" width="33" height="8.67" fill="#0030ff"/><rect x="728" y="478.72" width="33" height="8.67" fill="#0040ff"/><rect x="728" y="470.45" width="33" height="8.67" fill="#0050ff"/><rect x="728" y="462.17" width="33" height="8.67" fill="#0060ff"/><rect x="728" y="453.90" width="33" height="8.67" fill="#0070ff"/><rect x="728" y="445.62" width="33" height="8.67" fill="#0080ff"/><rect x="728" y="437.35" width="33" height="8.67" fill="#008fff"/><rect x="728" y="429.08" width="33" height="8.67" fill="#009fff"/><rect x="728" y="420.80" width="33" height="8.67" fill="#00afff"/><rect x="728" y="412.53" width="33" height="8.67" fill="#00bfff"/><rect x="728" y="404.26" width="33" height="8.67" fill="#00cfff"/><rect x="728" y="395.98" width="33" height="8.67" fill="#00dfff"/><rect x="728" y="387.71" width="33" height="8.67" fill="#00efff"/><rect x="728" y="379.44" width="33" height="8.67" fill="#00ffff"/><rect x="728" y="371.16" width="33" height="8.67" fill="#10ffef"/><rect x="728" y="362.89" width="33" height="8.67" fill="#20ffdf"/><rect x="728" y="354.62" width="33" height="8.67" fill="#30ffcf"/><rect x="728" y="346.34" width="33" height="8.67" fill="#40ffbf"/><rect x="728" y="338.07" width="33" height="8.67" fill="#50ffaf"/><rect x="728" y="329.80" width="33" height="8.67" fill="#60ff9f"/><rect x="728" y="321.52" width="33" height="8.67" fill="#70ff8f"/><rect x="728" y="313.25" width="33" height="8.67" fill="#80ff80"/><rect x="728" y="304.98" width="33" height="8.67" fill="#8fff70"/><rect x="728" y="296.70" width="33" height="8.67" fill="#9fff60"/><rect x="728" y="288.43" width="33" height="8.67" fill="#afff50"/><rect x="728" y="280.16" width="33" height="8.67" fill="#bfff40"/><rect x="728" y="271.88" width="33" height="8.67" fill="#cfff30"/><rect x="728" y="263.61" width="33" height="8.67" fill="#dfff20"/><rect x="728" y="255.34" width="33" height="8.67" fill="#efff10"/><rect x="728" y="247.06" width="33" height="8.67" fill="#ffff00"/><rect x="728" y="238.79" width="33" height="8.67" fill="#ffef00"/><rect x="728" y="230.52" width="33" height="8.67" fill="#ffdf00"/><rect x="728" y="222.24" width="33" height="8.67" fill="#ffcf00"/><rect x="728" y="213.97" width="33" height="8.67" fill="#ffbf00"/><rect x="728" y="205.70" width="33" height="8.67" fill="#ffaf00"/><rect x="728" y="197.42" width="33" height="8.67" fill="#ff9f00"/><rect x="728" y="189.15" width="33" height="8.67" fill="#ff8f00"/><rect x="728" y="180.88" width="33" height="8.67" fill="#ff8000"/><rect x="728" y="172.60" width="33" height="8.67" fill="#ff7000"/><rect x="728" y="164.33" width="33" height="8.67" fill="#ff6000"/><rect x="728" y="156.05" width="33" height="8.67" fill="#ff5000"/><rect x="728" y="147.78" width="33" height="8.67" fill="#ff4000"/><rect x="728" y="139.51" width="33" height="8.67" fill="#ff3000"/><rect x="728" y="131.23" width="33" height="8.67" fill="#ff2000"/><rect x="728" y="122.96" width="33" height="8.67" fill="#ff1000"/><rect x="728" y="114.69" width="33" height="8.67" fill="#ff0000"/><rect x="728" y="106.41" width="33" height="8.67" fill="#ef0000"/><rect x="728" y="98.14" width="33" height="8.67" fill="#df0000"/><rect x="728" y="89.87" width="33" height="8.67" fill="#cf0000"/><rect x="728" y="81.59" width="33" height="8.67" fill="#bf0000"/><rect x="728" y="73.32" width="33" height="8.67" fill="#af0000"/><rect x="728" y="65.05" width="33" height="8.67" fill="#9f0000"/><rect x="728" y="56.77" width="33" height="8.67" fill="#8f0000"/><rect x="728" y="48.50" width="33" height="8.67" fill="#800000"/>
<rect x="728.5" y="48.5" width="32" height="529.5" fill="none" stroke="#262626" stroke-width="1"/>
<path d="M754.5 180.8h6M754.5 313.3h6M754.5 445.8h6" stroke="#262626" stroke-width="1" fill="none"/>
<rect x="100.5" y="49.5" width="594" height="529" fill="none" stroke="#000070" stroke-opacity="0.6" stroke-width="1"/>
</svg>
<div id="y10" class="t" style="left:63.30px;top:51.40px;font-size:24px;font-weight:400;color:#262626;transform:scaleX(1.0250);transform-origin:0 0;">10</div>
<div id="y5" class="t" style="left:76.90px;top:177.40px;font-size:24px;font-weight:400;color:#262626;transform:scaleX(1.0636);transform-origin:0 0;">5</div>
<div id="y0" class="t" style="left:77.00px;top:302.00px;font-size:24px;font-weight:400;color:#262626;">0</div>
<div id="ym5" class="t" style="left:67.60px;top:428.60px;font-size:24px;font-weight:400;color:#262626;transform:scaleX(1.0632);transform-origin:0 0;">-5</div>
<div id="ym10" class="t" style="left:53.90px;top:554.60px;font-size:24px;font-weight:400;color:#262626;transform:scaleX(1.0394);transform-origin:0 0;">-10</div>
<div id="x20" class="t" style="left:183.80px;top:592.00px;font-size:24px;font-weight:400;color:#262626;transform:scaleX(1.0600);transform-origin:0 0;">20</div>
<div id="x40" class="t" style="left:281.20px;top:593.20px;font-size:24px;font-weight:400;color:#262626;transform:scaleX(1.0640);transform-origin:0 0;">40</div>
<div id="x60" class="t" style="left:379.80px;top:593.20px;font-size:24px;font-weight:400;color:#262626;transform:scaleX(1.0640);transform-origin:0 0;">60</div>
<div id="x80" class="t" style="left:477.80px;top:593.20px;font-size:24px;font-weight:400;color:#262626;transform:scaleX(1.0640);transform-origin:0 0;">80</div>
<div id="x100" class="t" style="left:570.90px;top:593.20px;font-size:24px;font-weight:400;color:#262626;transform:scaleX(1.0649);transform-origin:0 0;">100</div>
<div id="x120" class="t" style="left:669.60px;top:592.80px;font-size:24px;font-weight:400;color:#262626;transform:scaleX(1.0486);transform-origin:0 0;">120</div>
<div id="c85" class="t" style="left:770.40px;top:38.60px;font-size:23px;font-weight:400;color:#262626;">8.5</div>
<div id="c80" class="t" style="left:770.60px;top:170.40px;font-size:23px;font-weight:400;color:#262626;transform:scaleX(1.0273);transform-origin:0 0;">8</div>
<div id="c75" class="t" style="left:769.10px;top:303.60px;font-size:23px;font-weight:400;color:#262626;transform:scaleX(1.0200);transform-origin:0 0;">7.5</div>
<div id="c70" class="t" style="left:770.20px;top:435.00px;font-size:23px;font-weight:400;color:#262626;transform:scaleX(1.0364);transform-origin:0 0;">7</div>
<div id="c65" class="t" style="left:770.00px;top:567.80px;font-size:23px;font-weight:400;color:#262626;">6.5</div>
<div id="xlab" class="t" style="left:338.70px;top:627.20px;font-size:26px;font-weight:400;color:#262626;transform:scaleX(1.0450);transform-origin:0 0;">time [min]</div>
<div id="ylab" class="t" style="left:18.40px;top:356.40px;font-size:26px;font-weight:400;color:#262626;transform:rotate(-90deg) scaleX(1.1067);transform-origin:0 0;">&Delta;f [Hz]</div>
<div id="w0" class="t" style="left:-14.00px;top:16.60px;font-size:27px;font-weight:700;color:#000;">=</div>
<div id="w1" class="t" style="left:2.60px;top:16.60px;font-size:27px;font-weight:700;color:#000;">3.59</div>
<div id="w2" class="t" style="left:62.80px;top:16.60px;font-size:27px;font-weight:700;color:#000;transform:scaleX(1.0383);transform-origin:0 0;">MHz;</div>
<div id="w3" class="t" style="left:143.00px;top:16.60px;font-size:27px;font-weight:700;color:#000;transform:scaleX(1.0234);transform-origin:0 0;">lat=-34.42;</div>
<div id="w4" class="t" style="left:287.30px;top:16.60px;font-size:27px;font-weight:700;color:#000;transform:scaleX(1.0181);transform-origin:0 0;">long=19.22,</div>
<div id="w5" class="t" style="left:445.90px;top:16.60px;font-size:27px;font-weight:700;color:#000;">time=0</div>
<div id="w6" class="t" style="left:540.10px;top:16.60px;font-size:27px;font-weight:700;color:#000;transform:scaleX(0.9850);transform-origin:0 0;">is</div>
<div id="w7" class="t" style="left:571.50px;top:16.60px;font-size:27px;font-weight:700;color:#000;transform:scaleX(0.9783);transform-origin:0 0;">at</div>
<div id="w8" class="t" style="left:602.50px;top:16.60px;font-size:27px;font-weight:700;color:#000;transform:scaleX(1.0172);transform-origin:0 0;">2026</div>
<div id="w9" class="t" style="left:671.50px;top:16.60px;font-size:27px;font-weight:700;color:#000;transform:scaleX(0.8929);transform-origin:0 0;">01</div>
<div id="w10" class="t" style="left:710.10px;top:16.60px;font-size:27px;font-weight:700;color:#000;transform:scaleX(1.0222);transform-origin:0 0;">13</div>
<div id="w11" class="t" style="left:747.60px;top:16.60px;font-size:27px;font-weight:700;color:#000;transform:scaleX(1.0254);transform-origin:0 0;">22:00</div>
</body></html>
